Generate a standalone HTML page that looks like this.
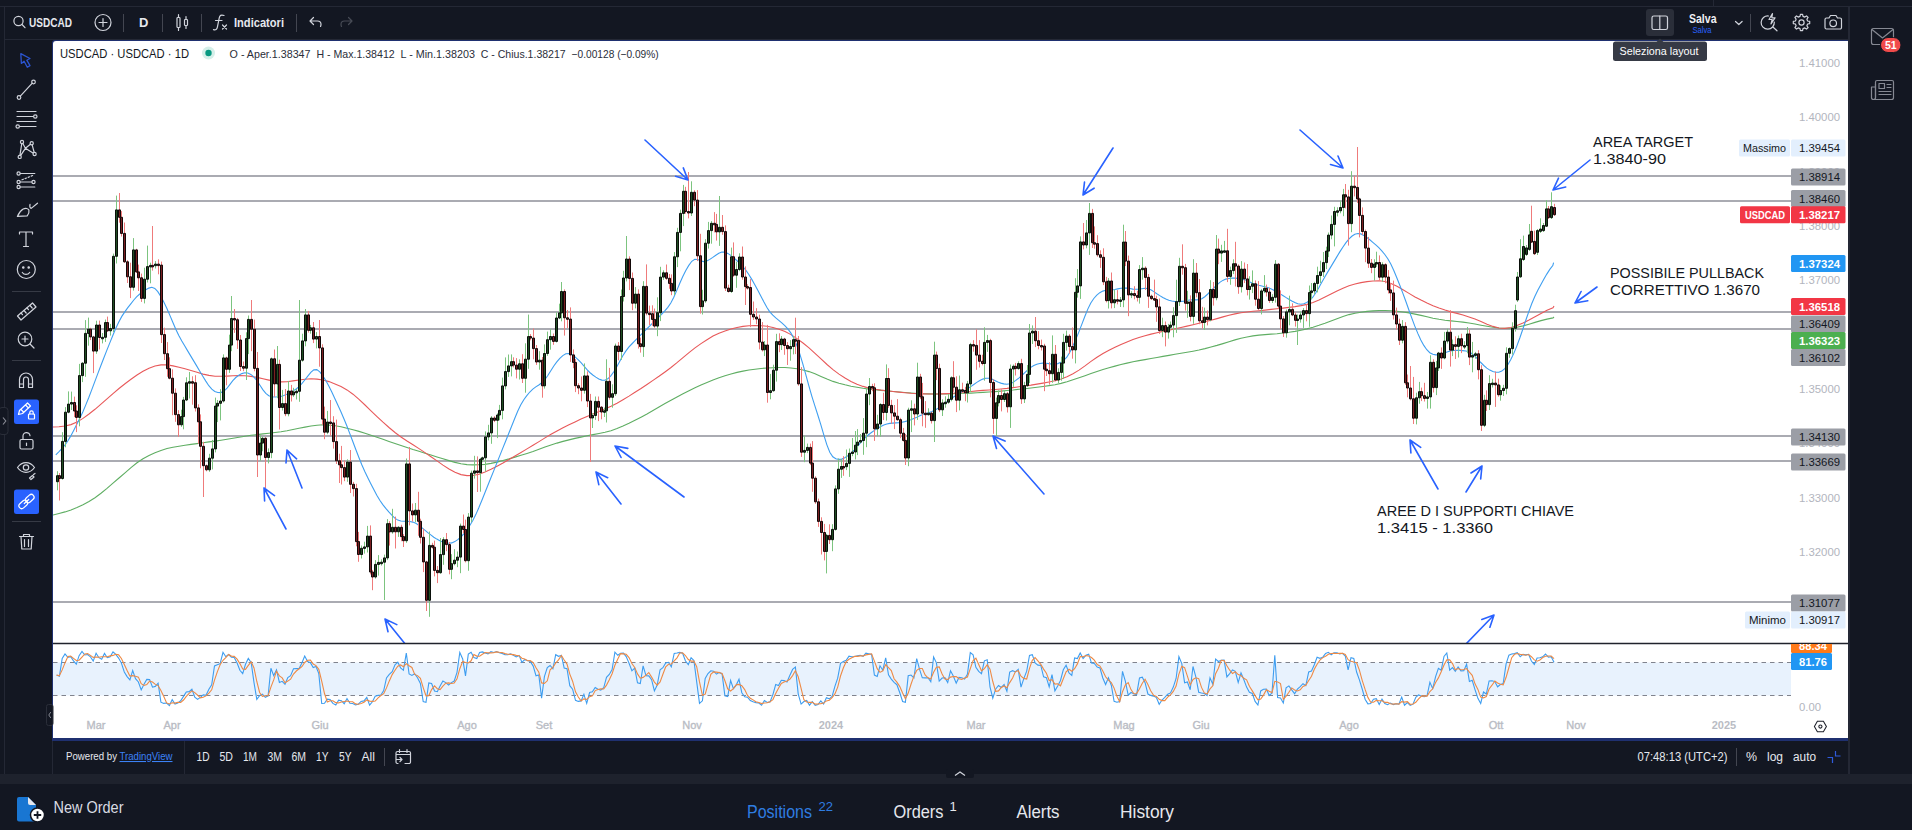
<!DOCTYPE html><html lang="it"><head><meta charset="utf-8"><title>USDCAD 1D</title><style>
html,body{margin:0;padding:0}
body{width:1912px;height:830px;background:#131722;position:relative;overflow:hidden;font-family:"Liberation Sans", "DejaVu Sans", sans-serif;color:#d1d4dc}
.a{position:absolute}
.ln{position:absolute;background:#242835}
</style></head><body>
<div class="a" style="left:0;top:0;width:1912px;height:6px;background:#131722"></div>
<div class="ln" style="left:0;top:6px;width:1912px;height:1px"></div>
<div class="ln" style="left:4px;top:6px;width:1px;height:768px"></div>
<div class="ln" style="left:4px;top:39px;width:1845px;height:1px"></div>
<div class="ln" style="left:1848px;top:6px;width:1.500px;height:768px"></div>
<div class="ln" style="left:1713px;top:0;width:1px;height:6px"></div>
<div class="a" style="left:52px;top:40px;width:1796px;height:700.500px;background:#1f3070;border-radius:3px 0 0 0"></div>
<div class="a" style="left:53px;top:41px;width:1795px;height:697px;background:#fff;border-radius:3px 0 0 0"></div>
<div class="a" style="left:0;top:774px;width:1912px;height:10px;background:#1e222d"></div>
<div class="a" style="left:0;top:784px;width:1912px;height:46px;background:#131722"></div>
<div class="ln" style="left:184px;top:741px;width:1px;height:33px"></div>
<div class="ln" style="left:52px;top:741px;width:1px;height:33px"></div>
<div class="ln" style="left:384px;top:748px;width:1px;height:18px;background:#434651"></div>
<div class="ln" style="left:1736px;top:748px;width:1px;height:18px;background:#434651"></div>
<svg width="1912" height="830" viewBox="0 0 1912 830" style="position:absolute;left:0;top:0" font-family='Liberation Sans, DejaVu Sans, sans-serif'>
<defs><clipPath id="cp"><rect x="53" y="41" width="1738" height="602"/></clipPath><clipPath id="cs"><rect x="53" y="644" width="1738" height="76"/></clipPath></defs>
<rect x="53" y="662.500" width="1738" height="33" fill="#e8f2fd"/>
<path d="M53 662.500H1791M53 695.500H1791" stroke="#80838d" stroke-width="1" stroke-dasharray="4.500 4" fill="none"/>
<g clip-path="url(#cs)" fill="none" stroke-width="1.1"><path d="M56.6 675.1L59.4 676.3L62.2 658.4L65.0 654.0L67.9 657.4L70.7 656.6L73.5 660.9L76.3 664.1L79.1 655.7L82.0 651.4L84.8 655.0L87.6 654.5L90.4 656.8L93.2 661.1L96.1 653.2L98.9 657.7L101.7 659.3L104.5 653.4L107.3 657.7L110.2 656.7L113.0 651.8L115.8 654.4L118.6 658.1L121.4 663.1L124.3 672.0L127.1 676.6L129.9 679.8L132.7 670.5L135.5 678.7L138.4 682.0L141.2 689.9L144.0 684.2L146.8 679.4L149.6 679.6L152.5 687.2L155.3 686.4L158.1 683.2L160.9 702.2L163.7 703.4L166.6 703.0L169.4 705.6L172.2 699.6L175.0 704.0L177.8 702.9L180.7 700.8L183.5 696.4L186.3 691.9L189.1 691.6L191.9 689.2L194.8 697.1L197.6 699.4L200.4 697.4L203.2 694.9L206.0 695.3L208.9 689.3L211.7 684.8L214.5 666.0L217.3 664.8L220.1 663.7L223.0 652.3L225.8 656.7L228.6 654.5L231.4 657.2L234.2 657.5L237.1 663.0L239.9 670.3L242.7 673.6L245.5 664.3L248.3 658.4L251.2 662.7L254.0 682.6L256.8 699.3L259.6 695.7L262.4 694.2L265.3 697.3L268.1 695.8L270.9 668.2L273.7 675.6L276.5 669.8L279.4 682.4L282.2 681.3L285.0 684.3L287.8 677.6L290.6 675.6L293.5 668.8L296.3 668.6L299.1 668.6L301.9 663.0L304.7 656.0L307.6 661.5L310.4 662.8L313.2 667.6L316.0 666.5L318.8 673.6L321.7 703.5L324.5 703.2L327.3 699.2L330.1 699.6L332.9 703.4L335.8 705.0L338.6 700.2L341.4 700.7L344.2 703.7L347.0 698.5L349.9 703.2L352.7 703.5L355.5 704.9L358.3 704.2L361.1 701.4L364.0 700.9L366.8 697.3L369.6 705.2L372.4 701.8L375.2 696.2L378.1 695.4L380.9 695.0L383.7 690.6L386.5 678.0L389.3 674.3L392.2 671.6L395.0 664.9L397.8 662.2L400.6 667.8L403.4 670.3L406.3 653.1L409.1 674.0L411.9 675.4L414.7 673.7L417.5 677.7L420.4 683.5L423.2 701.5L426.0 702.4L428.8 682.9L431.6 683.5L434.5 691.0L437.3 691.7L440.1 685.9L442.9 681.0L445.7 682.6L448.6 685.1L451.4 682.6L454.2 681.1L457.0 672.5L459.8 652.5L462.7 659.0L465.5 675.9L468.3 654.1L471.1 652.3L473.9 657.5L476.8 658.5L479.6 652.5L482.4 651.9L485.2 653.1L488.0 653.9L490.9 651.7L493.7 652.5L496.5 651.6L499.3 652.8L502.1 653.4L505.0 654.6L507.8 654.7L510.6 653.9L513.4 655.3L516.2 656.9L519.1 655.4L521.9 662.3L524.7 659.7L527.5 660.4L530.3 661.5L533.2 666.1L536.0 675.7L538.8 674.9L541.6 698.1L544.4 676.7L547.3 667.6L550.1 665.5L552.9 668.8L555.7 654.7L558.5 656.3L561.4 655.5L564.2 668.0L567.0 668.7L569.8 685.7L572.6 689.2L575.5 700.3L578.3 701.4L581.1 700.9L583.9 694.3L586.7 703.3L589.6 692.5L592.4 691.8L595.2 687.5L598.0 689.2L600.8 690.1L603.7 687.8L606.5 677.3L609.3 674.4L612.1 669.5L614.9 652.1L617.8 655.3L620.6 653.2L623.4 653.1L626.2 656.6L629.0 663.1L631.9 670.8L634.7 668.1L637.5 682.8L640.3 683.6L643.1 665.9L646.0 675.7L648.8 675.9L651.6 679.7L654.4 690.9L657.2 685.0L660.1 669.7L662.9 667.7L665.7 663.0L668.5 662.3L671.3 666.8L674.2 653.5L677.0 653.0L679.8 652.4L682.6 653.3L685.4 660.7L688.3 664.7L691.1 657.8L693.9 660.4L696.7 681.9L699.5 703.3L702.4 700.8L705.2 678.5L708.0 673.6L710.8 670.8L713.6 671.2L716.5 674.1L719.3 672.4L722.1 674.0L724.9 695.8L727.7 696.5L730.6 680.5L733.4 688.7L736.2 685.1L739.0 679.3L741.8 692.7L744.7 696.7L747.5 697.2L750.3 700.6L753.1 701.8L755.9 702.6L758.8 703.0L761.6 705.2L764.4 700.6L767.2 702.5L770.0 701.9L772.9 694.6L775.7 684.5L778.5 685.5L781.3 680.3L784.1 680.6L787.0 681.9L789.8 675.5L792.6 669.4L795.4 667.1L798.2 693.8L801.1 704.1L803.9 701.5L806.7 700.4L809.5 705.2L812.3 701.7L815.2 705.4L818.0 704.6L820.8 700.9L823.6 704.0L826.4 697.8L829.3 698.8L832.1 696.5L834.9 686.4L837.7 678.2L840.5 663.3L843.4 661.6L846.2 660.3L849.0 656.1L851.8 656.7L854.6 656.5L857.5 655.9L860.3 655.3L863.1 656.4L865.9 653.1L868.7 653.7L871.6 654.5L874.4 675.1L877.2 676.4L880.0 665.8L882.8 670.2L885.7 657.9L888.5 674.8L891.3 679.1L894.1 682.4L896.9 684.7L899.8 692.8L902.6 701.5L905.4 702.2L908.2 675.7L911.0 675.0L913.9 677.8L916.7 658.6L919.5 669.1L922.3 677.8L925.1 677.9L928.0 677.8L930.8 681.8L933.6 656.9L936.4 662.8L939.2 681.1L942.1 678.0L944.9 677.7L947.7 682.6L950.5 670.8L953.3 676.0L956.2 683.1L959.0 677.4L961.8 677.8L964.6 679.1L967.4 674.2L970.3 652.6L973.1 654.8L975.9 667.3L978.7 671.3L981.5 673.7L984.4 660.8L987.2 659.7L990.0 686.8L992.8 698.1L995.6 689.2L998.5 685.5L1001.3 687.5L1004.1 684.6L1006.9 691.2L1009.7 672.1L1012.6 670.7L1015.4 671.9L1018.2 669.4L1021.0 687.2L1023.8 678.6L1026.7 671.2L1029.5 655.4L1032.3 654.6L1035.1 662.8L1037.9 665.1L1040.8 665.4L1043.6 676.9L1046.4 677.6L1049.2 686.9L1052.0 674.6L1054.9 690.9L1057.7 686.1L1060.5 680.5L1063.3 669.8L1066.1 665.2L1069.0 672.9L1071.8 675.4L1074.6 657.9L1077.4 658.6L1080.2 652.9L1083.1 658.5L1085.9 655.3L1088.7 654.2L1091.5 663.1L1094.3 663.4L1097.2 667.0L1100.0 668.0L1102.8 678.0L1105.6 684.5L1108.4 677.7L1111.3 685.2L1114.1 701.4L1116.9 702.2L1119.7 701.6L1122.5 671.4L1125.4 681.3L1128.2 695.1L1131.0 692.5L1133.8 693.7L1136.6 694.7L1139.5 678.0L1142.3 677.2L1145.1 682.7L1147.9 694.0L1150.7 695.4L1153.6 696.1L1156.4 697.6L1159.2 704.3L1162.0 700.0L1164.8 697.4L1167.7 694.2L1170.5 692.9L1173.3 687.1L1176.1 678.5L1178.9 656.7L1181.8 663.6L1184.6 682.7L1187.4 682.0L1190.2 689.8L1193.0 666.5L1195.9 677.0L1198.7 692.2L1201.5 693.0L1204.3 693.5L1207.1 695.6L1210.0 677.8L1212.8 684.1L1215.6 659.1L1218.4 661.5L1221.2 660.2L1224.1 660.1L1226.9 676.9L1229.7 673.7L1232.5 670.0L1235.3 671.3L1238.2 682.5L1241.0 672.9L1243.8 679.5L1246.6 687.1L1249.4 692.2L1252.3 693.4L1255.1 701.4L1257.9 705.0L1260.7 690.9L1263.5 689.3L1266.4 689.1L1269.2 695.5L1272.0 693.1L1274.8 655.2L1277.6 697.6L1280.5 697.9L1283.3 703.0L1286.1 687.8L1288.9 685.9L1291.7 689.9L1294.6 693.7L1297.4 689.2L1300.2 686.6L1303.0 683.7L1305.8 685.6L1308.7 672.0L1311.5 671.0L1314.3 664.7L1317.1 657.2L1319.9 658.3L1322.8 657.2L1325.6 653.4L1328.4 652.3L1331.2 654.8L1334.0 652.8L1336.9 652.8L1339.7 654.0L1342.5 653.3L1345.3 656.0L1348.1 669.9L1351.0 657.7L1353.8 658.4L1356.6 672.0L1359.4 679.9L1362.2 689.0L1365.1 699.2L1367.9 703.9L1370.7 703.5L1373.5 699.2L1376.3 698.6L1379.2 704.6L1382.0 699.1L1384.8 703.5L1387.6 704.7L1390.4 703.1L1393.3 704.6L1396.1 703.7L1398.9 704.1L1401.7 697.1L1404.5 705.2L1407.4 702.5L1410.2 705.4L1413.0 704.2L1415.8 697.3L1418.6 694.9L1421.5 696.2L1424.3 696.7L1427.1 695.5L1429.9 682.2L1432.7 688.6L1435.6 676.6L1438.4 668.3L1441.2 670.3L1444.0 656.5L1446.8 653.0L1449.7 670.2L1452.5 667.6L1455.3 671.2L1458.1 666.9L1460.9 670.9L1463.8 670.8L1466.6 664.3L1469.4 681.4L1472.2 680.3L1475.0 689.6L1477.9 698.3L1480.7 703.4L1483.5 692.0L1486.3 694.0L1489.1 680.9L1492.0 680.7L1494.8 681.6L1497.6 686.8L1500.4 684.6L1503.2 683.4L1506.1 663.9L1508.9 655.2L1511.7 654.0L1514.5 653.6L1517.3 652.7L1520.2 656.7L1523.0 654.4L1525.8 654.9L1528.6 654.3L1531.4 661.0L1534.3 664.5L1537.1 658.0L1539.9 657.8L1542.7 656.8L1545.5 654.0L1548.4 657.2L1551.2 656.7L1554.0 662.2" stroke="#3d9df0"/><path d="M56.6 675.1L59.4 675.7L62.2 669.9L65.0 662.9L67.9 656.6L70.7 656.0L73.5 658.3L76.3 660.5L79.1 660.2L82.0 657.1L84.8 654.0L87.6 653.6L90.4 655.4L93.2 657.4L96.1 657.0L98.9 657.3L101.7 656.8L104.5 656.8L107.3 656.8L110.2 655.9L113.0 655.4L115.8 654.3L118.6 654.8L121.4 658.5L124.3 664.4L127.1 670.6L129.9 676.1L132.7 675.6L135.5 676.3L138.4 677.1L141.2 683.6L144.0 685.4L146.8 684.5L149.6 681.1L152.5 682.1L155.3 684.4L158.1 685.6L160.9 690.6L163.7 696.2L166.6 702.9L169.4 704.0L172.2 702.8L175.0 703.1L177.8 702.2L180.7 702.5L183.5 700.0L186.3 696.4L189.1 693.3L191.9 690.9L194.8 692.6L197.6 695.2L200.4 697.9L203.2 697.2L206.0 695.9L208.9 693.2L211.7 689.8L214.5 680.1L217.3 671.9L220.1 664.8L223.0 660.3L225.8 657.6L228.6 654.5L231.4 656.1L234.2 656.4L237.1 659.2L239.9 663.6L242.7 669.0L245.5 669.4L248.3 665.4L251.2 661.8L254.0 667.9L256.8 681.5L259.6 692.5L262.4 696.4L265.3 695.7L268.1 695.8L270.9 687.1L273.7 679.9L276.5 671.2L279.4 675.9L282.2 677.9L285.0 682.7L287.8 681.1L290.6 679.2L293.5 674.0L296.3 671.0L299.1 668.7L301.9 666.7L304.7 662.5L307.6 660.2L310.4 660.1L313.2 664.0L316.0 665.6L318.8 669.3L321.7 681.2L324.5 693.5L327.3 702.0L330.1 700.7L332.9 700.7L335.8 702.6L338.6 702.9L341.4 702.0L344.2 701.5L347.0 701.0L349.9 701.8L352.7 701.8L355.5 703.9L358.3 704.2L361.1 703.5L364.0 702.2L366.8 699.9L369.6 701.1L372.4 701.4L375.2 701.0L378.1 697.8L380.9 695.5L383.7 693.7L386.5 687.9L389.3 680.9L392.2 674.6L395.0 670.2L397.8 666.2L400.6 664.9L403.4 666.7L406.3 663.7L409.1 665.8L411.9 667.5L414.7 674.4L417.5 675.6L420.4 678.3L423.2 687.6L426.0 695.8L428.8 695.6L431.6 689.6L434.5 685.8L437.3 688.7L440.1 689.5L442.9 686.2L445.7 683.2L448.6 682.9L451.4 683.5L454.2 683.0L457.0 678.8L459.8 668.7L462.7 661.4L465.5 662.5L468.3 663.0L471.1 660.8L473.9 654.6L476.8 656.1L479.6 656.2L482.4 654.3L485.2 652.5L488.0 652.9L490.9 652.9L493.7 652.7L496.5 651.9L499.3 652.3L502.1 652.6L505.0 653.6L507.8 654.3L510.6 654.4L513.4 654.6L516.2 655.4L519.1 655.8L521.9 658.2L524.7 659.1L527.5 660.8L530.3 660.5L533.2 662.6L536.0 667.7L538.8 672.2L541.6 682.9L544.4 683.3L547.3 680.8L550.1 669.9L552.9 667.3L555.7 663.0L558.5 659.9L561.4 655.5L564.2 660.0L567.0 664.1L569.8 674.1L572.6 681.2L575.5 691.8L578.3 697.0L581.1 700.9L583.9 698.9L586.7 699.5L589.6 696.7L592.4 695.9L595.2 690.6L598.0 689.5L600.8 688.9L603.7 689.0L606.5 685.1L609.3 679.8L612.1 673.7L614.9 665.3L617.8 659.0L620.6 653.6L623.4 653.9L626.2 654.3L629.0 657.6L631.9 663.5L634.7 667.4L637.5 673.9L640.3 678.2L643.1 677.4L646.0 675.1L648.8 672.5L651.6 677.1L654.4 682.1L657.2 685.2L660.1 681.9L662.9 674.2L665.7 666.8L668.5 664.3L671.3 664.0L674.2 660.9L677.0 657.8L679.8 653.0L682.6 652.9L685.4 655.5L688.3 659.6L691.1 661.1L693.9 661.0L696.7 666.7L699.5 681.9L702.4 695.3L705.2 694.2L708.0 684.3L710.8 674.3L713.6 671.9L716.5 672.1L719.3 672.6L722.1 673.5L724.9 680.7L727.7 688.8L730.6 691.0L733.4 688.6L736.2 684.8L739.0 684.4L741.8 685.7L744.7 689.6L747.5 695.5L750.3 698.2L753.1 699.9L755.9 701.7L758.8 702.5L761.6 703.6L764.4 703.0L767.2 702.8L770.0 701.7L772.9 699.6L775.7 693.6L778.5 688.2L781.3 683.4L784.1 682.1L787.0 680.9L789.8 679.3L792.6 675.6L795.4 670.6L798.2 676.8L801.1 688.3L803.9 699.8L806.7 702.0L809.5 702.4L812.3 702.4L815.2 704.1L818.0 703.9L820.8 703.6L823.6 703.1L826.4 700.9L829.3 700.2L832.1 697.7L834.9 693.9L837.7 687.1L840.5 676.0L843.4 667.7L846.2 661.7L849.0 659.3L851.8 657.7L854.6 656.4L857.5 656.4L860.3 655.9L863.1 655.9L865.9 654.9L868.7 654.4L871.6 653.8L874.4 661.1L877.2 668.7L880.0 672.4L882.8 670.8L885.7 664.6L888.5 667.6L891.3 670.6L894.1 678.8L896.9 682.1L899.8 686.6L902.6 693.0L905.4 698.8L908.2 693.1L911.0 684.3L913.9 676.1L916.7 670.4L919.5 668.5L922.3 668.5L925.1 674.9L928.0 677.8L930.8 679.1L933.6 672.2L936.4 667.2L939.2 666.9L942.1 674.0L944.9 678.9L947.7 679.5L950.5 677.1L953.3 676.5L956.2 676.6L959.0 678.8L961.8 679.4L964.6 678.1L967.4 677.0L970.3 668.6L973.1 660.5L975.9 658.2L978.7 664.5L981.5 670.8L984.4 668.6L987.2 664.7L990.0 669.1L992.8 681.5L995.6 691.4L998.5 690.9L1001.3 687.4L1004.1 685.9L1006.9 687.8L1009.7 682.6L1012.6 678.0L1015.4 671.6L1018.2 670.7L1021.0 676.2L1023.8 678.4L1026.7 679.0L1029.5 668.4L1032.3 660.4L1035.1 657.6L1037.9 660.8L1040.8 664.4L1043.6 669.1L1046.4 673.3L1049.2 680.5L1052.0 679.7L1054.9 684.1L1057.7 683.8L1060.5 685.8L1063.3 678.8L1066.1 671.8L1069.0 669.3L1071.8 671.2L1074.6 668.7L1077.4 663.9L1080.2 656.5L1083.1 656.7L1085.9 655.6L1088.7 656.0L1091.5 657.5L1094.3 660.2L1097.2 664.5L1100.0 666.1L1102.8 671.0L1105.6 676.8L1108.4 680.1L1111.3 682.5L1114.1 688.1L1116.9 696.3L1119.7 701.7L1122.5 691.7L1125.4 684.8L1128.2 682.6L1131.0 689.6L1133.8 693.7L1136.6 693.6L1139.5 688.8L1142.3 683.3L1145.1 679.3L1147.9 684.6L1150.7 690.7L1153.6 695.2L1156.4 696.4L1159.2 699.3L1162.0 700.6L1164.8 700.6L1167.7 697.2L1170.5 694.8L1173.3 691.4L1176.1 686.1L1178.9 674.1L1181.8 666.3L1184.6 667.7L1187.4 676.1L1190.2 684.9L1193.0 679.5L1195.9 677.8L1198.7 678.6L1201.5 687.4L1204.3 692.9L1207.1 694.0L1210.0 688.9L1212.8 685.8L1215.6 673.7L1218.4 668.3L1221.2 660.3L1224.1 660.6L1226.9 665.7L1229.7 670.2L1232.5 673.5L1235.3 671.7L1238.2 674.6L1241.0 675.6L1243.8 678.3L1246.6 679.8L1249.4 686.3L1252.3 690.9L1255.1 695.6L1257.9 699.9L1260.7 699.1L1263.5 695.1L1266.4 689.8L1269.2 691.3L1272.0 692.6L1274.8 681.3L1277.6 681.9L1280.5 683.6L1283.3 699.5L1286.1 696.2L1288.9 692.2L1291.7 687.9L1294.6 689.9L1297.4 690.9L1300.2 689.8L1303.0 686.5L1305.8 685.3L1308.7 680.5L1311.5 676.2L1314.3 669.3L1317.1 664.3L1319.9 660.1L1322.8 657.6L1325.6 656.3L1328.4 654.3L1331.2 653.5L1334.0 653.3L1336.9 653.5L1339.7 653.2L1342.5 653.4L1345.3 654.4L1348.1 659.7L1351.0 661.2L1353.8 662.0L1356.6 662.7L1359.4 670.1L1362.2 680.3L1365.1 689.4L1367.9 697.4L1370.7 702.2L1373.5 702.2L1376.3 700.4L1379.2 700.8L1382.0 700.7L1384.8 702.4L1387.6 702.4L1390.4 703.8L1393.3 704.1L1396.1 703.8L1398.9 704.1L1401.7 701.6L1404.5 702.1L1407.4 701.6L1410.2 704.4L1413.0 704.0L1415.8 702.3L1418.6 698.8L1421.5 696.1L1424.3 695.9L1427.1 696.1L1429.9 691.5L1432.7 688.8L1435.6 682.5L1438.4 677.9L1441.2 671.8L1444.0 665.0L1446.8 659.9L1449.7 659.9L1452.5 663.6L1455.3 669.7L1458.1 668.6L1460.9 669.7L1463.8 669.5L1466.6 668.6L1469.4 672.2L1472.2 675.3L1475.0 683.8L1477.9 689.4L1480.7 697.1L1483.5 697.9L1486.3 696.5L1489.1 689.0L1492.0 685.2L1494.8 681.1L1497.6 683.0L1500.4 684.3L1503.2 684.9L1506.1 677.3L1508.9 667.5L1511.7 657.7L1514.5 654.3L1517.3 653.5L1520.2 654.4L1523.0 654.6L1525.8 655.3L1528.6 654.5L1531.4 656.7L1534.3 659.9L1537.1 661.2L1539.9 660.1L1542.7 657.5L1545.5 656.2L1548.4 656.0L1551.2 656.0L1554.0 658.7" stroke="#ee8a45"/></g>
<path d="M53 176.0H1791M53 201.0H1791M53 312.0H1791M53 329.0H1791M53 436.0H1791M53 461.0H1791M53 602.0H1791" stroke="#8e9099" stroke-width="1.5" fill="none"/>
<g clip-path="url(#cp)">
<g fill="none" stroke-width="1.1"><path d="M53.0 515.0L59.0 513.5L65.0 511.9L71.0 509.9L77.0 507.5L83.0 504.7L89.0 501.4L95.0 497.7L101.0 493.3L107.0 488.4L113.0 483.2L119.0 478.0L125.0 472.8L131.0 467.7L137.0 462.8L143.0 458.7L149.0 455.4L155.0 452.7L161.0 450.4L167.0 448.5L173.0 447.2L179.0 446.2L185.0 445.3L191.0 444.4L197.0 443.6L203.0 442.8L209.0 441.9L215.0 441.1L221.0 440.2L227.0 439.3L233.0 438.3L239.0 437.2L245.0 436.3L251.0 435.3L257.0 434.6L263.0 433.9L269.0 433.2L275.0 432.5L281.0 431.7L287.0 430.7L293.0 429.5L299.0 428.3L305.0 427.1L311.0 426.0L317.0 425.2L323.0 424.8L329.0 425.1L335.0 425.8L341.0 426.8L347.0 428.2L353.0 429.7L359.0 431.4L365.0 433.2L371.0 435.2L377.0 437.2L383.0 439.3L389.0 441.4L395.0 443.5L401.0 445.5L407.0 447.5L413.0 449.5L419.0 451.3L425.0 453.2L431.0 455.0L437.0 456.9L443.0 458.8L449.0 460.6L455.0 462.4L461.0 463.7L467.0 464.6L473.0 464.9L479.0 464.8L485.0 464.4L491.0 463.4L497.0 462.1L503.0 460.5L509.0 458.9L515.0 457.1L521.0 455.3L527.0 453.4L533.0 451.5L539.0 449.3L545.0 447.1L551.0 445.0L557.0 443.1L563.0 441.4L569.0 439.9L575.0 438.4L581.0 437.1L587.0 435.8L593.0 434.6L599.0 433.5L605.0 432.3L611.0 430.7L617.0 428.6L623.0 426.1L629.0 423.3L635.0 420.3L641.0 417.2L647.0 414.0L653.0 410.5L659.0 407.0L665.0 403.6L671.0 400.2L677.0 396.9L683.0 393.8L689.0 390.7L695.0 387.8L701.0 385.0L707.0 382.4L713.0 379.9L719.0 377.7L725.0 375.7L731.0 374.0L737.0 372.4L743.0 371.1L749.0 370.0L755.0 369.2L761.0 368.5L767.0 368.0L773.0 367.7L779.0 367.5L785.0 367.5L791.0 368.0L797.0 368.8L803.0 370.0L809.0 371.6L815.0 373.8L821.0 376.5L827.0 379.1L833.0 381.4L839.0 383.2L845.0 384.8L851.0 386.2L857.0 387.3L863.0 388.3L869.0 389.1L875.0 389.8L881.0 390.4L887.0 390.9L893.0 391.5L899.0 392.0L905.0 392.5L911.0 393.0L917.0 393.5L923.0 393.8L929.0 393.9L935.0 394.0L941.0 394.0L947.0 393.9L953.0 393.7L959.0 393.5L965.0 393.3L971.0 393.1L977.0 392.8L983.0 392.4L989.0 392.0L995.0 391.6L1001.0 391.1L1007.0 390.5L1013.0 390.0L1019.0 389.3L1025.0 388.7L1031.0 388.0L1037.0 387.3L1043.0 386.5L1049.0 385.6L1055.0 384.7L1061.0 383.4L1067.0 381.8L1073.0 379.8L1079.0 377.7L1085.0 375.7L1091.0 373.6L1097.0 371.5L1103.0 369.5L1109.0 367.7L1115.0 366.1L1121.0 364.5L1127.0 363.1L1133.0 361.8L1139.0 360.6L1145.0 359.6L1151.0 358.5L1157.0 357.5L1163.0 356.4L1169.0 355.4L1175.0 354.3L1181.0 353.3L1187.0 352.3L1193.0 351.2L1199.0 350.0L1205.0 348.6L1211.0 347.0L1217.0 345.4L1223.0 343.6L1229.0 341.7L1235.0 339.9L1241.0 338.3L1247.0 337.0L1253.0 335.9L1259.0 335.1L1265.0 334.6L1271.0 334.1L1277.0 333.7L1283.0 333.0L1289.0 332.3L1295.0 331.4L1301.0 330.2L1307.0 328.9L1313.0 327.2L1319.0 325.3L1325.0 323.2L1331.0 320.9L1337.0 318.7L1343.0 316.5L1349.0 314.6L1355.0 313.2L1361.0 312.2L1367.0 311.4L1373.0 310.9L1379.0 310.5L1385.0 310.5L1391.0 310.7L1397.0 311.2L1403.0 312.0L1409.0 312.9L1415.0 314.1L1421.0 315.4L1427.0 316.8L1433.0 318.2L1439.0 319.3L1445.0 320.2L1451.0 320.9L1457.0 321.5L1463.0 322.1L1469.0 323.0L1475.0 324.0L1481.0 325.2L1487.0 326.3L1493.0 327.3L1499.0 328.0L1505.0 328.3L1511.0 328.1L1517.0 327.2L1523.0 325.9L1529.0 324.2L1535.0 322.4L1541.0 320.6L1547.0 319.1L1553.0 317.9L1554.0 317.0" stroke="#5fae63"/><path d="M53.0 427.0L59.0 426.7L65.0 426.0L71.0 424.6L77.0 422.1L83.0 418.4L89.0 414.0L95.0 409.3L101.0 404.2L107.0 398.9L113.0 393.6L119.0 388.5L125.0 383.7L131.0 379.2L137.0 375.0L143.0 371.3L149.0 368.2L155.0 366.0L161.0 364.9L167.0 364.9L173.0 365.9L179.0 367.3L185.0 368.8L191.0 370.5L197.0 372.3L203.0 374.1L209.0 375.4L215.0 376.2L221.0 376.3L227.0 376.1L233.0 375.8L239.0 375.6L245.0 375.7L251.0 376.4L257.0 377.4L263.0 378.8L269.0 380.1L275.0 381.3L281.0 381.9L287.0 381.7L293.0 380.9L299.0 380.0L305.0 379.2L311.0 378.8L317.0 379.1L323.0 380.0L329.0 381.6L335.0 383.9L341.0 386.6L347.0 389.9L353.0 394.2L359.0 399.3L365.0 405.0L371.0 410.8L377.0 416.6L383.0 422.2L389.0 427.5L395.0 432.5L401.0 437.0L407.0 441.0L413.0 444.8L419.0 448.6L425.0 452.6L431.0 456.7L437.0 460.9L443.0 465.1L449.0 469.0L455.0 472.3L461.0 474.6L467.0 475.6L473.0 475.5L479.0 474.2L485.0 472.0L491.0 469.3L497.0 466.2L503.0 463.0L509.0 459.5L515.0 456.0L521.0 452.5L527.0 448.9L533.0 445.2L539.0 441.6L545.0 437.9L551.0 434.3L557.0 430.9L563.0 427.7L569.0 424.7L575.0 421.9L581.0 419.1L587.0 416.4L593.0 413.9L599.0 411.5L605.0 409.0L611.0 406.3L617.0 403.2L623.0 399.7L629.0 396.1L635.0 392.3L641.0 388.5L647.0 384.5L653.0 380.4L659.0 376.3L665.0 372.0L671.0 367.5L677.0 362.7L683.0 357.6L689.0 352.6L695.0 347.9L701.0 343.6L707.0 339.7L713.0 336.1L719.0 333.2L725.0 330.9L731.0 329.0L737.0 327.5L743.0 326.4L749.0 325.8L755.0 325.5L761.0 325.7L767.0 326.3L773.0 327.5L779.0 329.2L785.0 331.5L791.0 334.6L797.0 338.6L803.0 343.0L809.0 347.9L815.0 353.3L821.0 358.9L827.0 364.5L833.0 369.6L839.0 374.1L845.0 378.0L851.0 381.4L857.0 384.2L863.0 386.4L869.0 388.1L875.0 389.2L881.0 390.1L887.0 390.8L893.0 391.5L899.0 392.1L905.0 392.7L911.0 393.3L917.0 393.7L923.0 393.9L929.0 394.0L935.0 394.0L941.0 393.9L947.0 393.6L953.0 393.2L959.0 392.6L965.0 392.0L971.0 391.5L977.0 390.9L983.0 390.4L989.0 390.0L995.0 389.5L1001.0 389.0L1007.0 388.4L1013.0 387.6L1019.0 386.8L1025.0 385.9L1031.0 385.1L1037.0 384.1L1043.0 383.1L1049.0 382.0L1055.0 380.8L1061.0 379.1L1067.0 376.7L1073.0 373.7L1079.0 370.1L1085.0 365.9L1091.0 361.4L1097.0 357.2L1103.0 353.5L1109.0 350.3L1115.0 347.3L1121.0 344.5L1127.0 341.9L1133.0 339.6L1139.0 337.5L1145.0 335.7L1151.0 334.1L1157.0 332.7L1163.0 331.4L1169.0 330.1L1175.0 328.8L1181.0 327.5L1187.0 326.1L1193.0 324.7L1199.0 323.2L1205.0 321.7L1211.0 320.2L1217.0 318.6L1223.0 316.9L1229.0 315.3L1235.0 313.9L1241.0 312.8L1247.0 312.0L1253.0 311.3L1259.0 310.7L1265.0 310.1L1271.0 309.4L1277.0 308.8L1283.0 308.1L1289.0 307.4L1295.0 306.6L1301.0 305.6L1307.0 304.4L1313.0 302.6L1319.0 300.1L1325.0 297.1L1331.0 294.1L1337.0 291.0L1343.0 288.2L1349.0 285.8L1355.0 284.0L1361.0 282.6L1367.0 281.6L1373.0 281.0L1379.0 280.8L1385.0 281.5L1391.0 283.4L1397.0 286.3L1403.0 289.8L1409.0 293.4L1415.0 296.9L1421.0 300.1L1427.0 303.1L1433.0 305.8L1439.0 308.1L1445.0 310.1L1451.0 311.9L1457.0 313.4L1463.0 315.0L1469.0 316.9L1475.0 319.1L1481.0 321.6L1487.0 324.2L1493.0 326.4L1499.0 328.0L1505.0 328.4L1511.0 327.5L1517.0 325.6L1523.0 323.0L1529.0 320.1L1535.0 316.8L1541.0 313.4L1547.0 310.3L1553.0 307.8L1554.0 306.0" stroke="#e8595a"/><path d="M55.8 454.8L58.8 451.8L61.8 448.6L64.8 445.2L67.8 441.0L70.8 435.9L73.8 430.2L76.8 424.3L79.8 418.2L82.8 411.9L85.8 404.9L88.8 397.5L91.8 389.6L94.8 381.6L97.8 373.6L100.8 365.7L103.8 358.0L106.8 350.4L109.8 342.9L112.8 335.5L115.8 328.3L118.8 321.9L121.8 316.4L124.8 311.9L127.8 307.7L130.8 303.8L133.8 300.0L136.8 296.7L139.8 294.0L142.8 291.8L145.8 289.8L148.8 288.1L151.8 287.3L154.8 288.4L157.8 291.6L160.8 296.4L163.8 302.0L166.8 308.2L169.8 315.1L172.8 322.3L175.8 329.2L178.8 335.4L181.8 340.9L184.8 346.1L187.8 351.1L190.8 356.1L193.8 361.1L196.8 366.1L199.8 371.2L202.8 376.2L205.8 381.1L208.8 385.7L211.8 389.2L214.8 391.4L217.8 392.5L220.8 392.6L223.8 391.3L226.8 388.5L229.8 384.6L232.8 380.7L235.8 377.5L238.8 375.2L241.8 373.6L244.8 372.8L247.8 373.0L250.8 374.4L253.8 376.9L256.8 380.5L259.8 385.0L262.8 389.6L265.8 393.4L268.8 395.7L271.8 396.7L274.8 397.0L277.8 396.8L280.8 396.4L283.8 395.4L286.8 394.2L289.8 392.7L292.8 391.1L295.8 389.3L298.8 386.9L301.8 383.7L304.8 380.0L307.8 376.1L310.8 372.4L313.8 369.9L316.8 369.6L319.8 371.8L322.8 375.7L325.8 380.5L328.8 386.0L331.8 392.0L334.8 398.4L337.8 404.9L340.8 411.5L343.8 418.5L346.8 425.8L349.8 433.6L352.8 441.5L355.8 449.5L358.8 457.3L361.8 464.7L364.8 471.4L367.8 477.7L370.8 483.7L373.8 489.6L376.8 495.2L379.8 500.3L382.8 504.6L385.8 508.4L388.8 511.9L391.8 515.2L394.8 518.1L397.8 520.1L400.8 521.0L403.8 521.3L406.8 521.3L409.8 521.5L412.8 522.1L415.8 523.3L418.8 525.3L421.8 527.6L424.8 530.1L427.8 532.6L430.8 534.9L433.8 537.2L436.8 539.1L439.8 540.8L442.8 542.0L445.8 542.9L448.8 543.3L451.8 542.9L454.8 541.6L457.8 539.6L460.8 537.0L463.8 533.8L466.8 529.9L469.8 525.5L472.8 520.5L475.8 514.6L478.8 507.8L481.8 500.5L484.8 493.0L487.8 485.5L490.8 478.0L493.8 470.6L496.8 463.1L499.8 455.6L502.8 448.1L505.8 440.7L508.8 433.2L511.8 425.7L514.8 418.2L517.8 411.1L520.8 404.8L523.8 399.7L526.8 395.6L529.8 392.0L532.8 389.1L535.8 386.9L538.8 385.0L541.8 382.8L544.8 379.7L547.8 375.5L550.8 370.7L553.8 366.0L556.8 361.9L559.8 358.4L562.8 355.6L565.8 353.8L568.8 353.5L571.8 354.6L574.8 356.7L577.8 359.3L580.8 362.4L583.8 365.8L586.8 369.3L589.8 372.5L592.8 375.0L595.8 377.1L598.8 378.9L601.8 380.1L604.8 380.2L607.8 378.8L610.8 375.9L613.8 371.8L616.8 366.8L619.8 361.2L622.8 355.8L625.8 351.1L628.8 347.2L631.8 344.0L634.8 340.9L637.8 337.9L640.8 334.9L643.8 331.9L646.8 328.9L649.8 325.9L652.8 322.9L655.8 320.0L658.8 317.0L661.8 314.0L664.8 310.9L667.8 307.4L670.8 303.0L673.8 297.3L676.8 290.4L679.8 283.3L682.8 276.6L685.8 270.6L688.8 265.4L691.8 261.3L694.8 259.3L697.8 259.5L700.8 260.9L703.8 261.6L706.8 261.0L709.8 259.4L712.8 257.4L715.8 255.2L718.8 253.3L721.8 252.1L724.8 252.1L727.8 253.4L730.8 255.4L733.8 257.8L736.8 260.5L739.8 263.3L742.8 266.5L745.8 270.1L748.8 274.5L751.8 279.4L754.8 284.7L757.8 290.2L760.8 296.0L763.8 301.8L766.8 307.2L769.8 311.8L772.8 315.2L775.8 317.9L778.8 320.3L781.8 322.9L784.8 325.7L787.8 328.9L790.8 332.9L793.8 338.3L796.8 345.2L799.8 353.8L802.8 363.8L805.8 374.7L808.8 385.7L811.8 396.1L814.8 405.7L817.8 415.0L820.8 424.7L823.8 434.8L826.8 444.6L829.8 452.3L832.8 456.8L835.8 458.8L838.8 459.4L841.8 459.1L844.8 457.8L847.8 455.8L850.8 453.3L853.8 450.5L856.8 447.2L859.8 443.6L862.8 440.2L865.8 437.2L868.8 434.5L871.8 432.2L874.8 430.1L877.8 428.2L880.8 426.6L883.8 425.1L886.8 424.0L889.8 423.4L892.8 423.1L895.8 422.9L898.8 422.7L901.8 422.2L904.8 421.6L907.8 420.8L910.8 419.8L913.8 418.5L916.8 417.2L919.8 415.8L922.8 414.5L925.8 413.5L928.8 412.7L931.8 411.6L934.8 410.3L937.8 408.4L940.8 406.3L943.8 404.1L946.8 401.9L949.8 399.7L952.8 397.5L955.8 395.4L958.8 393.5L961.8 391.8L964.8 390.2L967.8 388.5L970.8 386.6L973.8 384.5L976.8 382.4L979.8 380.6L982.8 379.1L985.8 378.3L988.8 378.2L991.8 379.1L994.8 380.5L997.8 382.0L1000.8 383.1L1003.8 383.9L1006.8 384.2L1009.8 383.8L1012.8 382.4L1015.8 380.4L1018.8 378.1L1021.8 375.5L1024.8 372.7L1027.8 369.9L1030.8 367.4L1033.8 365.5L1036.8 364.2L1039.8 363.5L1042.8 363.1L1045.8 363.2L1048.8 363.6L1051.8 364.1L1054.8 364.1L1057.8 363.6L1060.8 362.3L1063.8 360.4L1066.8 357.2L1069.8 352.3L1072.8 346.2L1075.8 339.4L1078.8 332.1L1081.8 324.4L1084.8 316.5L1087.8 309.1L1090.8 303.0L1093.8 298.5L1096.8 295.2L1099.8 292.7L1102.8 291.1L1105.8 290.3L1108.8 290.1L1111.8 289.9L1114.8 289.5L1117.8 288.9L1120.8 288.3L1123.8 288.0L1126.8 288.1L1129.8 288.5L1132.8 289.1L1135.8 289.3L1138.8 289.2L1141.8 288.7L1144.8 288.3L1147.8 288.6L1150.8 289.8L1153.8 291.6L1156.8 293.7L1159.8 295.6L1162.8 297.4L1165.8 298.9L1168.8 300.2L1171.8 301.0L1174.8 301.5L1177.8 301.5L1180.8 301.4L1183.8 301.1L1186.8 300.5L1189.8 300.0L1192.8 299.7L1195.8 299.9L1198.8 299.8L1201.8 298.8L1204.8 296.7L1207.8 294.0L1210.8 291.0L1213.8 288.0L1216.8 285.1L1219.8 282.4L1222.8 280.4L1225.8 279.1L1228.8 278.5L1231.8 278.1L1234.8 278.1L1237.8 278.4L1240.8 278.9L1243.8 279.6L1246.8 280.6L1249.8 281.9L1252.8 283.3L1255.8 284.5L1258.8 285.3L1261.8 286.0L1264.8 286.7L1267.8 287.6L1270.8 288.8L1273.8 290.2L1276.8 291.8L1279.8 293.6L1282.8 295.5L1285.8 297.4L1288.8 299.2L1291.8 300.9L1294.8 302.5L1297.8 303.7L1300.8 304.2L1303.8 303.7L1306.8 302.4L1309.8 300.3L1312.8 297.2L1315.8 292.8L1318.8 287.7L1321.8 282.3L1324.8 277.0L1327.8 271.9L1330.8 266.9L1333.8 261.9L1336.8 256.9L1339.8 251.9L1342.8 247.2L1345.8 242.9L1348.8 239.2L1351.8 236.3L1354.8 234.3L1357.8 233.5L1360.8 233.9L1363.8 235.4L1366.8 237.5L1369.8 239.8L1372.8 242.3L1375.8 244.9L1378.8 247.7L1381.8 250.9L1384.8 254.5L1387.8 258.8L1390.8 264.1L1393.8 270.5L1396.8 277.7L1399.8 285.3L1402.8 293.1L1405.8 301.3L1408.8 309.7L1411.8 318.1L1414.8 326.1L1417.8 333.4L1420.8 339.9L1423.8 345.4L1426.8 349.7L1429.8 352.7L1432.8 354.3L1435.8 354.9L1438.8 354.7L1441.8 353.9L1444.8 352.8L1447.8 351.7L1450.8 350.9L1453.8 350.5L1456.8 350.4L1459.8 350.4L1462.8 350.6L1465.8 351.0L1468.8 351.8L1471.8 353.5L1474.8 356.0L1477.8 359.2L1480.8 362.5L1483.8 365.5L1486.8 368.1L1489.8 370.1L1492.8 371.5L1495.8 372.3L1498.8 372.2L1501.8 371.1L1504.8 368.6L1507.8 364.7L1510.8 359.6L1513.8 353.4L1516.8 346.1L1519.8 338.0L1522.8 329.2L1525.8 320.3L1528.8 311.6L1531.8 303.5L1534.8 296.5L1537.8 290.3L1540.8 284.7L1543.8 279.3L1546.8 274.1L1549.8 269.4L1552.8 265.6L1553.6 262.6" stroke="#3f9ff0"/></g>
<path d="M57.5 471.2V490.3M62.5 432.2V479.7M65.5 407.1V447.3M68.5 391.4V413.3M71.5 391.6V410.0M79.5 363.9V426.3M82.5 362.2V382.1M85.5 320.1V376.8M88.5 317.6V345.7M96.5 320.7V353.8M102.5 333.0V343.4M105.5 319.5V341.9M110.5 323.9V335.6M113.5 253.6V332.1M116.5 195.6V263.5M133.5 238.1V290.6M144.5 267.7V303.4M147.5 245.6V282.5M150.5 262.7V283.3M155.5 261.1V268.5M181.5 409.7V426.9M183.5 396.9V429.3M186.5 377.3V401.1M189.5 372.0V398.5M209.5 453.8V471.8M212.5 439.9V469.4M215.5 397.6V452.4M217.5 400.0V422.1M220.5 389.2V420.4M223.5 354.4V402.5M229.5 334.7V372.9M231.5 296.0V351.2M246.5 332.3V380.0M248.5 315.5V354.1M260.5 435.3V460.7M262.5 436.6V451.3M268.5 448.4V463.4M271.5 357.5V458.2M277.5 346.0V398.2M282.5 389.9V410.5M288.5 380.9V416.3M293.5 387.8V396.9M296.5 389.0V399.5M299.5 300.0V401.8M302.5 333.7V361.7M305.5 309.0V346.3M310.5 324.9V333.7M316.5 332.1V348.4M327.5 410.9V434.2M347.5 459.3V481.8M361.5 545.5V558.5M364.5 541.7V553.6M367.5 525.9V552.5M375.5 560.1V578.6M378.5 555.1V575.6M381.5 559.3V565.6M384.5 554.6V600.0M387.5 519.1V560.1M392.5 508.8V533.7M398.5 526.2V536.9M406.5 458.5V542.8M415.5 503.0V522.2M429.5 531.5V616.8M440.5 538.0V573.8M443.5 537.2V564.8M451.5 554.2V579.2M454.5 549.2V565.4M457.5 551.5V567.2M460.5 523.6V573.2M468.5 513.1V570.8M471.5 470.6V522.1M474.5 455.8V478.6M480.5 457.9V491.7M482.5 456.6V462.2M485.5 431.4V471.5M488.5 424.8V440.4M491.5 416.1V443.8M497.5 413.3V438.1M499.5 404.9V420.3M502.5 377.6V419.3M505.5 357.4V389.4M508.5 354.5V376.9M511.5 354.4V376.4M519.5 359.3V379.5M525.5 343.3V392.7M528.5 314.6V368.8M539.5 351.2V369.7M544.5 344.4V388.6M547.5 331.6V355.8M550.5 329.3V349.7M556.5 312.3V342.5M559.5 303.7V319.2M561.5 282.0V321.3M584.5 363.4V393.6M592.5 413.2V428.0M595.5 396.5V419.9M604.5 407.6V417.0M606.5 359.3V422.5M612.5 384.3V407.7M615.5 343.6V395.9M621.5 289.5V359.9M623.5 270.8V301.5M626.5 236.0V281.4M635.5 287.1V308.4M643.5 281.2V356.9M657.5 297.3V336.2M660.5 266.8V321.1M663.5 270.3V279.9M674.5 252.1V295.1M677.5 227.8V267.1M680.5 209.7V251.3M683.5 184.9V226.1M691.5 181.3V216.0M702.5 289.8V314.5M705.5 239.2V302.8M708.5 221.9V248.6M711.5 221.1V243.7M719.5 196.0V245.9M731.5 247.6V292.9M736.5 261.7V287.8M739.5 253.3V271.2M764.5 341.0V356.1M770.5 373.9V399.3M773.5 364.7V391.8M776.5 333.8V381.6M781.5 336.0V350.0M790.5 340.1V360.7M793.5 336.4V354.4M804.5 435.6V462.2M807.5 443.6V453.1M826.5 533.9V573.4M832.5 524.2V551.2M835.5 485.4V530.6M838.5 458.5V493.8M841.5 458.9V477.9M846.5 449.5V470.1M849.5 448.5V476.9M852.5 438.0V456.2M855.5 431.0V459.4M857.5 429.1V455.1M860.5 434.0V443.1M863.5 418.1V454.8M866.5 387.7V447.2M869.5 378.0V405.2M877.5 414.8V436.3M880.5 403.2V436.7M886.5 364.4V420.6M908.5 407.7V466.2M911.5 400.3V432.1M917.5 362.7V419.9M928.5 408.3V415.6M934.5 341.7V442.0M942.5 399.3V416.0M945.5 396.3V407.7M948.5 394.1V403.7M951.5 376.3V401.3M959.5 375.6V410.4M967.5 380.9V402.5M970.5 342.8V392.1M984.5 327.3V380.7M987.5 334.9V351.9M996.5 397.6V436.0M998.5 390.4V406.4M1004.5 390.0V402.0M1010.5 364.5V427.9M1013.5 364.5V386.9M1018.5 361.3V369.7M1024.5 381.8V403.0M1027.5 365.0V386.9M1029.5 324.0V383.1M1032.5 325.4V344.0M1052.5 335.4V382.8M1058.5 368.3V383.1M1061.5 356.6V380.7M1063.5 333.8V378.8M1066.5 330.6V350.6M1075.5 278.2V363.4M1077.5 269.1V297.6M1080.5 236.4V298.9M1086.5 220.0V248.3M1089.5 203.0V254.9M1108.5 278.1V308.5M1114.5 289.5V308.1M1120.5 297.0V307.0M1123.5 224.7V307.2M1131.5 291.2V298.1M1139.5 265.1V303.6M1142.5 257.1V279.7M1162.5 317.7V337.2M1168.5 323.9V338.6M1170.5 321.5V329.7M1173.5 307.2V337.3M1176.5 279.7V332.9M1179.5 257.8V306.0M1187.5 290.8V317.9M1193.5 259.2V323.8M1204.5 307.6V330.0M1210.5 280.2V321.3M1216.5 235.0V300.3M1221.5 244.8V261.9M1224.5 240.9V252.0M1230.5 266.6V284.8M1233.5 259.3V274.1M1241.5 261.1V292.5M1249.5 276.2V299.6M1252.5 270.4V293.1M1261.5 288.9V314.4M1264.5 275.1V293.1M1272.5 294.2V303.0M1275.5 260.1V302.6M1286.5 309.6V337.7M1289.5 295.7V325.3M1297.5 314.5V345.0M1300.5 311.5V322.6M1303.5 308.1V327.9M1309.5 285.5V326.8M1311.5 283.0V299.3M1314.5 281.8V294.4M1317.5 266.7V292.4M1320.5 260.7V283.0M1323.5 252.0V277.0M1326.5 246.7V269.1M1328.5 232.5V257.1M1331.5 215.5V239.3M1334.5 206.8V246.4M1337.5 207.3V216.4M1340.5 200.7V213.3M1343.5 188.9V216.2M1351.5 171.2V232.2M1374.5 259.3V280.6M1376.5 251.7V266.9M1382.5 262.3V281.7M1402.5 320.1V343.3M1416.5 392.7V424.4M1419.5 381.9V403.7M1427.5 392.0V408.6M1430.5 355.3V408.6M1436.5 360.9V395.1M1438.5 351.9V371.0M1444.5 331.9V359.3M1447.5 328.7V343.5M1452.5 339.5V356.1M1458.5 335.5V357.5M1464.5 341.2V349.1M1467.5 327.0V353.3M1472.5 341.9V372.3M1475.5 351.9V358.7M1484.5 394.8V427.1M1489.5 375.2V410.0M1492.5 378.8V387.5M1500.5 385.3V400.7M1503.5 384.8V396.0M1506.5 347.3V394.3M1509.5 347.4V357.8M1512.5 322.3V354.6M1515.5 304.7V331.6M1517.5 272.0V302.0M1520.5 239.2V278.0M1523.5 235.6V261.0M1526.5 245.0V256.0M1529.5 224.0V251.0M1537.5 229.0V255.0M1540.5 218.3V233.0M1543.5 223.0V232.0M1546.5 200.2V227.0M1551.5 192.3V219.0" stroke="#7cc47f" stroke-width="1" fill="none"/>
<path d="M59.5 473.0V500.5M74.5 396.6V417.1M76.5 405.3V432.1M90.5 327.8V340.1M93.5 335.8V373.1M99.5 320.6V349.5M107.5 316.6V331.9M119.5 193.0V222.7M121.5 211.1V236.5M124.5 222.5V263.0M127.5 260.1V283.0M130.5 262.7V298.1M136.5 248.8V273.0M138.5 264.6V291.0M141.5 273.6V301.9M152.5 226.0V270.6M158.5 259.3V274.3M161.5 261.6V343.0M164.5 327.7V360.0M167.5 342.1V376.8M169.5 357.3V379.3M172.5 369.3V415.2M175.5 388.4V421.8M178.5 410.2V436.8M192.5 376.3V404.7M195.5 375.2V411.5M198.5 404.3V443.8M200.5 414.4V468.3M203.5 441.8V497.0M206.5 464.5V471.3M226.5 356.7V385.3M234.5 309.0V332.9M237.5 317.9V348.9M240.5 335.0V371.0M243.5 361.5V371.2M251.5 300.0V351.2M254.5 319.6V371.3M257.5 352.0V477.0M265.5 437.1V488.0M274.5 349.5V396.9M279.5 359.7V429.5M285.5 389.0V416.2M291.5 384.9V401.5M308.5 310.9V332.6M313.5 322.0V343.1M319.5 320.0V366.7M322.5 344.3V424.8M324.5 406.6V439.2M330.5 400.0V435.8M333.5 416.2V448.6M336.5 419.6V464.0M339.5 453.7V483.0M341.5 445.9V484.5M344.5 460.4V481.2M350.5 450.0V493.0M353.5 481.9V496.5M356.5 483.8V546.3M358.5 531.9V561.8M370.5 525.4V574.4M372.5 569.9V590.2M389.5 521.2V545.6M395.5 516.6V548.5M401.5 524.8V541.2M403.5 534.2V547.0M409.5 447.0V525.4M412.5 503.5V521.5M418.5 491.8V535.8M420.5 518.7V543.5M423.5 528.7V572.1M426.5 560.8V611.0M432.5 542.8V548.6M434.5 540.6V576.4M437.5 566.0V583.1M446.5 533.0V551.2M449.5 542.0V574.3M463.5 514.5V533.3M465.5 519.6V562.4M477.5 456.4V492.0M494.5 416.2V422.1M513.5 357.3V367.4M516.5 358.1V378.4M522.5 354.2V383.0M530.5 334.2V340.3M533.5 328.5V359.3M536.5 345.0V364.9M542.5 357.0V397.7M553.5 333.5V344.8M564.5 289.4V335.6M567.5 310.0V328.0M570.5 307.4V361.9M573.5 349.4V368.2M575.5 359.1V392.1M578.5 383.3V394.2M581.5 376.4V401.3M587.5 371.3V407.1M590.5 393.9V462.0M598.5 396.5V421.1M601.5 406.1V419.3M609.5 367.9V399.6M618.5 342.1V360.3M629.5 256.3V290.1M632.5 272.5V310.2M638.5 289.4V348.6M640.5 337.6V352.6M646.5 264.4V315.3M649.5 305.6V325.0M652.5 305.3V325.8M654.5 308.5V327.8M666.5 264.5V279.9M669.5 274.0V288.8M671.5 274.4V295.2M685.5 186.8V213.6M688.5 172.0V218.4M694.5 190.3V206.2M697.5 190.1V261.1M700.5 233.8V313.6M714.5 212.1V232.4M716.5 213.9V240.6M722.5 215.0V234.8M725.5 225.4V291.0M728.5 284.7V292.6M733.5 242.4V276.8M742.5 246.5V279.7M745.5 266.4V305.0M747.5 284.2V289.6M750.5 279.1V327.1M753.5 301.5V319.9M756.5 308.2V324.2M759.5 314.7V349.4M762.5 322.1V351.5M767.5 324.9V402.7M779.5 333.3V352.2M784.5 337.8V354.8M787.5 342.1V365.0M795.5 317.7V354.1M798.5 336.0V385.7M801.5 367.1V456.9M810.5 443.6V465.1M812.5 441.1V491.8M815.5 476.3V503.8M818.5 498.6V526.9M821.5 517.3V554.5M824.5 523.9V560.4M829.5 524.3V544.0M843.5 456.2V475.8M872.5 383.8V391.2M874.5 383.3V440.9M883.5 392.7V420.1M888.5 368.2V407.8M891.5 399.8V423.8M894.5 405.0V429.1M897.5 399.1V420.8M900.5 417.8V438.2M903.5 427.9V441.6M905.5 434.0V465.0M914.5 403.7V425.4M920.5 373.8V399.1M922.5 382.9V426.3M925.5 401.1V427.8M931.5 411.8V423.5M936.5 351.6V380.1M939.5 363.7V412.1M953.5 361.2V391.8M956.5 376.3V412.1M962.5 382.7V393.4M965.5 386.8V401.2M973.5 340.2V351.7M976.5 329.4V369.8M979.5 340.1V367.5M982.5 354.7V365.3M990.5 338.8V397.4M993.5 379.2V433.8M1001.5 389.4V411.4M1007.5 391.9V412.5M1015.5 362.9V375.5M1021.5 358.8V403.9M1035.5 317.0V347.1M1038.5 331.1V349.3M1041.5 339.6V350.5M1044.5 343.8V391.2M1046.5 363.8V376.0M1049.5 362.1V384.6M1055.5 345.0V381.3M1069.5 334.1V353.8M1072.5 327.4V358.7M1083.5 223.0V249.4M1092.5 208.9V248.0M1094.5 226.4V248.7M1097.5 235.2V256.7M1100.5 250.3V267.9M1103.5 248.3V285.1M1106.5 276.9V302.4M1111.5 272.5V308.4M1117.5 290.1V304.3M1125.5 231.0V266.1M1128.5 255.6V316.2M1134.5 286.2V299.3M1137.5 290.8V301.5M1145.5 266.4V289.9M1148.5 274.0V307.9M1151.5 294.7V300.0M1154.5 279.6V300.9M1156.5 295.7V321.8M1159.5 298.5V333.9M1165.5 321.5V346.4M1182.5 244.3V274.7M1185.5 263.9V310.6M1190.5 295.4V321.3M1196.5 263.0V297.3M1199.5 279.0V324.2M1202.5 306.8V328.5M1207.5 310.5V325.4M1213.5 282.0V305.6M1218.5 238.6V264.2M1227.5 228.8V282.1M1235.5 241.8V286.5M1238.5 264.3V293.8M1244.5 262.5V283.1M1247.5 264.0V295.4M1255.5 280.4V305.7M1258.5 281.1V310.0M1266.5 284.6V296.5M1269.5 287.8V302.8M1278.5 263.1V308.9M1280.5 290.4V329.0M1283.5 316.1V337.0M1292.5 303.3V316.2M1295.5 312.5V326.6M1306.5 304.1V321.3M1345.5 184.0V208.4M1348.5 189.8V245.6M1354.5 175.7V196.4M1357.5 147.0V202.9M1359.5 197.7V237.4M1362.5 207.4V234.9M1365.5 229.6V262.2M1368.5 236.9V267.9M1371.5 259.0V273.2M1379.5 255.4V280.6M1385.5 263.3V283.3M1388.5 270.1V293.5M1390.5 283.3V300.9M1393.5 280.6V319.5M1396.5 307.6V329.5M1399.5 318.7V345.0M1405.5 322.2V384.9M1407.5 374.5V397.3M1410.5 366.0V400.4M1413.5 376.9V424.0M1421.5 387.6V401.1M1424.5 382.8V401.5M1433.5 359.3V392.5M1441.5 347.4V368.9M1450.5 310.2V366.6M1455.5 336.3V359.0M1461.5 333.7V353.1M1469.5 329.5V365.1M1478.5 350.2V379.4M1481.5 365.2V431.0M1486.5 390.4V410.9M1495.5 371.5V406.9M1498.5 378.7V396.7M1531.5 205.7V243.0M1534.5 230.6V255.0M1548.5 206.0V219.0M1554.5 203.8V216.0" stroke="#ef7b7b" stroke-width="1" fill="none"/>
<path d="M56.5 475.7h2V481.7h-2zM61.5 441.4h2V478.5h-2zM64.5 412.2h2V441.4h-2zM67.5 404.1h2V412.2h-2zM70.5 402.5h2V404.1h-2zM78.5 375.6h2V417.4h-2zM81.5 363.2h2V375.6h-2zM84.5 333.4h2V363.2h-2zM87.5 329.2h2V333.4h-2zM95.5 325.0h2V351.1h-2zM101.5 337.3h2V338.8h-2zM104.5 322.6h2V337.3h-2zM109.5 328.5h2V330.8h-2zM112.5 256.3h2V328.5h-2zM115.5 209.9h2V256.3h-2zM132.5 249.9h2V287.3h-2zM143.5 279.2h2V298.4h-2zM146.5 266.6h2V279.2h-2zM149.5 265.4h2V266.9h-2zM154.5 264.1h2V265.7h-2zM180.5 416.6h2V424.8h-2zM182.5 400.0h2V416.6h-2zM185.5 382.8h2V400.0h-2zM188.5 381.7h2V383.2h-2zM208.5 458.2h2V469.8h-2zM211.5 448.9h2V458.2h-2zM214.5 406.1h2V448.9h-2zM216.5 403.3h2V406.1h-2zM219.5 401.0h2V403.3h-2zM222.5 357.9h2V401.0h-2zM228.5 345.1h2V369.3h-2zM230.5 318.5h2V345.1h-2zM245.5 338.6h2V368.2h-2zM247.5 319.4h2V338.6h-2zM259.5 443.1h2V455.0h-2zM261.5 438.3h2V443.1h-2zM267.5 452.6h2V457.5h-2zM270.5 358.8h2V452.6h-2zM276.5 364.4h2V383.9h-2zM281.5 403.6h2V407.5h-2zM287.5 391.0h2V413.7h-2zM292.5 391.9h2V394.8h-2zM295.5 391.3h2V392.8h-2zM298.5 360.2h2V391.3h-2zM301.5 340.9h2V360.2h-2zM304.5 314.9h2V340.9h-2zM309.5 327.8h2V330.3h-2zM315.5 336.5h2V339.1h-2zM326.5 422.0h2V432.2h-2zM346.5 462.1h2V477.1h-2zM360.5 548.3h2V554.5h-2zM363.5 546.9h2V548.4h-2zM366.5 536.1h2V546.9h-2zM374.5 564.4h2V577.0h-2zM377.5 562.4h2V564.4h-2zM380.5 562.2h2V563.7h-2zM383.5 557.9h2V562.2h-2zM386.5 523.7h2V557.9h-2zM391.5 527.3h2V531.9h-2zM397.5 527.3h2V531.8h-2zM405.5 463.9h2V540.7h-2zM414.5 510.2h2V514.9h-2zM428.5 545.4h2V600.3h-2zM439.5 554.6h2V572.7h-2zM442.5 539.7h2V554.6h-2zM450.5 563.7h2V569.3h-2zM453.5 560.2h2V563.7h-2zM456.5 557.1h2V560.2h-2zM459.5 526.1h2V557.1h-2zM467.5 517.1h2V560.7h-2zM470.5 473.2h2V517.1h-2zM473.5 470.9h2V473.2h-2zM479.5 459.3h2V472.6h-2zM481.5 457.8h2V459.3h-2zM484.5 436.9h2V457.8h-2zM487.5 432.9h2V436.9h-2zM490.5 418.0h2V432.9h-2zM496.5 415.0h2V420.3h-2zM498.5 410.4h2V415.0h-2zM501.5 385.9h2V410.4h-2zM504.5 371.6h2V385.9h-2zM507.5 365.9h2V371.6h-2zM510.5 361.7h2V365.9h-2zM518.5 363.8h2V369.2h-2zM524.5 359.2h2V378.3h-2zM527.5 336.6h2V359.2h-2zM538.5 360.2h2V362.0h-2zM543.5 353.5h2V385.8h-2zM546.5 339.7h2V353.5h-2zM549.5 336.5h2V339.7h-2zM555.5 318.0h2V341.4h-2zM558.5 312.9h2V318.0h-2zM560.5 291.5h2V312.9h-2zM583.5 375.9h2V390.3h-2zM591.5 415.5h2V417.9h-2zM594.5 401.4h2V415.5h-2zM603.5 410.8h2V412.3h-2zM605.5 381.3h2V410.8h-2zM611.5 393.7h2V397.3h-2zM614.5 346.0h2V393.7h-2zM620.5 296.5h2V351.5h-2zM622.5 278.0h2V296.5h-2zM625.5 259.0h2V278.0h-2zM634.5 294.1h2V303.2h-2zM642.5 286.4h2V346.6h-2zM656.5 312.7h2V326.1h-2zM659.5 277.1h2V312.7h-2zM662.5 272.8h2V277.1h-2zM673.5 256.8h2V291.0h-2zM676.5 232.4h2V256.8h-2zM679.5 213.4h2V232.4h-2zM682.5 191.3h2V213.4h-2zM690.5 192.3h2V213.0h-2zM701.5 300.9h2V306.6h-2zM704.5 243.2h2V300.9h-2zM707.5 230.6h2V243.2h-2zM710.5 223.3h2V230.6h-2zM718.5 227.3h2V231.9h-2zM730.5 256.8h2V291.5h-2zM735.5 269.5h2V275.2h-2zM738.5 257.0h2V269.5h-2zM763.5 345.0h2V349.8h-2zM769.5 390.7h2V392.5h-2zM772.5 370.2h2V390.7h-2zM775.5 341.6h2V370.2h-2zM780.5 339.0h2V344.6h-2zM789.5 346.5h2V348.7h-2zM792.5 339.7h2V346.5h-2zM803.5 450.4h2V452.2h-2zM806.5 447.4h2V450.4h-2zM825.5 535.4h2V551.4h-2zM831.5 529.4h2V539.7h-2zM834.5 488.9h2V529.4h-2zM837.5 469.2h2V488.9h-2zM840.5 466.5h2V469.2h-2zM845.5 463.4h2V466.7h-2zM848.5 453.3h2V463.4h-2zM851.5 452.0h2V453.5h-2zM854.5 445.2h2V452.0h-2zM856.5 442.1h2V445.2h-2zM859.5 440.5h2V442.1h-2zM862.5 433.2h2V440.5h-2zM865.5 394.0h2V433.2h-2zM868.5 386.5h2V394.0h-2zM876.5 424.0h2V428.8h-2zM879.5 404.5h2V424.0h-2zM885.5 378.5h2V412.5h-2zM907.5 410.1h2V458.0h-2zM910.5 408.8h2V410.3h-2zM916.5 377.0h2V414.0h-2zM927.5 413.2h2V414.7h-2zM933.5 355.1h2V420.6h-2zM941.5 402.9h2V409.8h-2zM944.5 402.2h2V403.7h-2zM947.5 399.3h2V402.2h-2zM950.5 377.8h2V399.3h-2zM958.5 389.8h2V400.2h-2zM966.5 383.9h2V392.8h-2zM969.5 344.6h2V383.9h-2zM983.5 342.4h2V363.5h-2zM986.5 340.6h2V342.4h-2zM995.5 402.8h2V418.4h-2zM997.5 395.5h2V402.8h-2zM1003.5 393.7h2V399.5h-2zM1009.5 369.0h2V406.8h-2zM1012.5 366.3h2V369.0h-2zM1017.5 363.6h2V368.6h-2zM1023.5 385.6h2V398.9h-2zM1026.5 374.4h2V385.6h-2zM1028.5 333.0h2V374.4h-2zM1031.5 331.2h2V333.0h-2zM1051.5 354.3h2V373.7h-2zM1057.5 372.4h2V380.0h-2zM1060.5 363.1h2V372.4h-2zM1062.5 342.4h2V363.1h-2zM1065.5 336.1h2V342.4h-2zM1074.5 292.3h2V349.9h-2zM1076.5 285.9h2V292.3h-2zM1079.5 241.9h2V285.9h-2zM1085.5 232.9h2V245.0h-2zM1088.5 213.4h2V232.9h-2zM1107.5 281.0h2V300.6h-2zM1113.5 299.7h2V302.8h-2zM1119.5 299.9h2V301.4h-2zM1122.5 242.1h2V299.9h-2zM1130.5 293.6h2V295.1h-2zM1138.5 269.6h2V297.3h-2zM1141.5 268.2h2V269.7h-2zM1161.5 325.6h2V330.6h-2zM1167.5 327.2h2V332.1h-2zM1169.5 325.1h2V327.2h-2zM1172.5 315.6h2V325.1h-2zM1175.5 301.7h2V315.6h-2zM1178.5 266.3h2V301.7h-2zM1186.5 301.9h2V303.4h-2zM1192.5 273.1h2V316.4h-2zM1203.5 317.1h2V322.4h-2zM1209.5 289.5h2V319.7h-2zM1215.5 249.1h2V297.7h-2zM1220.5 250.9h2V253.1h-2zM1223.5 250.8h2V252.3h-2zM1229.5 270.6h2V276.4h-2zM1232.5 263.8h2V270.6h-2zM1240.5 269.1h2V286.7h-2zM1248.5 286.3h2V289.5h-2zM1251.5 283.8h2V286.3h-2zM1260.5 290.9h2V308.5h-2zM1263.5 288.4h2V290.9h-2zM1271.5 297.3h2V300.5h-2zM1274.5 264.2h2V297.3h-2zM1285.5 311.9h2V332.8h-2zM1288.5 309.4h2V311.9h-2zM1296.5 319.0h2V320.5h-2zM1299.5 315.0h2V319.0h-2zM1302.5 310.6h2V315.0h-2zM1308.5 292.6h2V313.6h-2zM1310.5 290.9h2V292.6h-2zM1313.5 283.5h2V290.9h-2zM1316.5 275.5h2V283.5h-2zM1319.5 271.8h2V275.5h-2zM1322.5 262.6h2V271.8h-2zM1325.5 251.1h2V262.6h-2zM1327.5 235.1h2V251.1h-2zM1330.5 224.4h2V235.1h-2zM1333.5 211.5h2V224.4h-2zM1336.5 210.8h2V212.3h-2zM1339.5 207.5h2V210.8h-2zM1342.5 194.8h2V207.5h-2zM1350.5 186.2h2V223.6h-2zM1373.5 264.0h2V267.4h-2zM1375.5 262.5h2V264.0h-2zM1381.5 264.7h2V277.2h-2zM1401.5 326.4h2V340.2h-2zM1415.5 397.8h2V418.2h-2zM1418.5 391.7h2V397.8h-2zM1426.5 396.9h2V398.4h-2zM1429.5 362.3h2V396.9h-2zM1435.5 367.9h2V387.6h-2zM1437.5 353.0h2V367.9h-2zM1443.5 341.1h2V358.0h-2zM1446.5 332.2h2V341.1h-2zM1451.5 344.7h2V350.1h-2zM1457.5 338.7h2V346.4h-2zM1463.5 345.6h2V347.1h-2zM1466.5 334.0h2V345.6h-2zM1471.5 355.4h2V357.1h-2zM1474.5 353.8h2V355.4h-2zM1483.5 400.3h2V425.3h-2zM1488.5 383.6h2V404.6h-2zM1491.5 383.1h2V384.6h-2zM1499.5 390.5h2V394.7h-2zM1502.5 388.3h2V390.5h-2zM1505.5 353.3h2V388.3h-2zM1508.5 348.6h2V353.3h-2zM1511.5 328.3h2V348.6h-2zM1514.5 310.7h2V328.3h-2zM1516.5 277.0h2V300.0h-2zM1519.5 258.8h2V276.8h-2zM1522.5 246.5h2V259.5h-2zM1525.5 247.9h2V254.4h-2zM1528.5 234.9h2V249.4h-2zM1536.5 230.6h2V252.3h-2zM1539.5 229.1h2V231.3h-2zM1542.5 225.5h2V230.6h-2zM1545.5 208.9h2V226.2h-2zM1550.5 206.7h2V217.6h-2z" fill="#1f4d22" stroke="#0a0f0a" stroke-width="1"/>
<path d="M58.5 475.7h2V478.5h-2zM73.5 402.5h2V411.0h-2zM75.5 411.0h2V417.4h-2zM89.5 329.2h2V336.9h-2zM92.5 336.9h2V351.1h-2zM98.5 325.0h2V337.5h-2zM106.5 322.6h2V330.8h-2zM118.5 209.9h2V217.3h-2zM120.5 217.3h2V233.4h-2zM123.5 233.4h2V261.8h-2zM126.5 261.8h2V276.8h-2zM129.5 276.8h2V287.3h-2zM135.5 249.9h2V271.9h-2zM137.5 271.9h2V277.8h-2zM140.5 277.8h2V298.4h-2zM151.5 265.4h2V266.9h-2zM157.5 264.1h2V265.6h-2zM160.5 265.1h2V334.6h-2zM163.5 334.6h2V353.7h-2zM166.5 353.7h2V368.7h-2zM168.5 368.7h2V378.2h-2zM171.5 378.2h2V393.2h-2zM174.5 393.2h2V414.6h-2zM177.5 414.6h2V424.8h-2zM191.5 381.7h2V383.2h-2zM194.5 382.7h2V407.9h-2zM197.5 407.9h2V421.8h-2zM199.5 421.8h2V446.3h-2zM202.5 446.3h2V465.7h-2zM205.5 465.7h2V469.8h-2zM225.5 357.9h2V369.3h-2zM233.5 318.5h2V320.0h-2zM236.5 319.7h2V340.0h-2zM239.5 340.0h2V366.5h-2zM242.5 366.5h2V368.2h-2zM250.5 319.4h2V329.2h-2zM253.5 329.2h2V368.4h-2zM256.5 368.4h2V455.0h-2zM264.5 438.3h2V457.5h-2zM273.5 358.8h2V383.9h-2zM278.5 364.4h2V407.5h-2zM284.5 403.6h2V413.7h-2zM290.5 391.0h2V394.8h-2zM307.5 314.9h2V330.3h-2zM312.5 327.8h2V339.1h-2zM318.5 336.5h2V347.9h-2zM321.5 347.9h2V419.1h-2zM323.5 419.1h2V432.2h-2zM329.5 422.0h2V423.5h-2zM332.5 422.9h2V441.6h-2zM335.5 441.6h2V460.8h-2zM338.5 460.8h2V464.8h-2zM340.5 464.8h2V467.6h-2zM343.5 467.6h2V477.1h-2zM349.5 462.1h2V484.3h-2zM352.5 484.3h2V488.6h-2zM355.5 488.6h2V541.6h-2zM357.5 541.6h2V554.5h-2zM369.5 536.1h2V572.0h-2zM371.5 572.0h2V577.0h-2zM388.5 523.7h2V531.9h-2zM394.5 527.3h2V531.8h-2zM400.5 527.3h2V536.6h-2zM402.5 536.6h2V540.7h-2zM408.5 463.9h2V510.9h-2zM411.5 510.9h2V514.9h-2zM417.5 510.2h2V521.3h-2zM419.5 521.3h2V537.3h-2zM422.5 537.3h2V561.9h-2zM425.5 561.9h2V600.3h-2zM431.5 545.4h2V547.2h-2zM433.5 547.2h2V570.4h-2zM436.5 570.4h2V572.7h-2zM445.5 539.7h2V544.6h-2zM448.5 544.6h2V569.3h-2zM462.5 526.1h2V529.5h-2zM464.5 529.5h2V560.7h-2zM476.5 470.9h2V472.6h-2zM493.5 418.0h2V420.3h-2zM512.5 361.7h2V365.1h-2zM515.5 365.1h2V369.2h-2zM521.5 363.8h2V378.3h-2zM529.5 336.6h2V338.1h-2zM532.5 338.1h2V348.6h-2zM535.5 348.6h2V362.0h-2zM541.5 360.2h2V385.8h-2zM552.5 336.5h2V341.4h-2zM563.5 291.5h2V317.8h-2zM566.5 317.8h2V319.3h-2zM569.5 319.1h2V354.9h-2zM572.5 354.9h2V362.4h-2zM574.5 362.4h2V385.7h-2zM577.5 385.7h2V388.0h-2zM580.5 388.0h2V390.3h-2zM586.5 375.9h2V401.0h-2zM589.5 401.0h2V417.9h-2zM597.5 401.4h2V407.2h-2zM600.5 407.2h2V412.0h-2zM608.5 381.3h2V397.3h-2zM617.5 346.0h2V351.5h-2zM628.5 259.0h2V278.4h-2zM631.5 278.4h2V303.2h-2zM637.5 294.1h2V343.8h-2zM639.5 343.8h2V346.6h-2zM645.5 286.4h2V313.1h-2zM648.5 313.1h2V314.6h-2zM651.5 313.7h2V319.4h-2zM653.5 319.4h2V326.1h-2zM665.5 272.8h2V278.3h-2zM668.5 278.3h2V283.4h-2zM670.5 283.4h2V291.0h-2zM684.5 191.3h2V211.5h-2zM687.5 211.5h2V213.0h-2zM693.5 192.3h2V200.1h-2zM696.5 200.1h2V255.8h-2zM699.5 255.8h2V306.6h-2zM713.5 223.3h2V224.8h-2zM715.5 224.4h2V231.9h-2zM721.5 227.3h2V231.6h-2zM724.5 231.6h2V288.1h-2zM727.5 288.1h2V291.5h-2zM732.5 256.8h2V275.2h-2zM741.5 257.0h2V277.0h-2zM744.5 277.0h2V286.6h-2zM746.5 286.6h2V288.1h-2zM749.5 287.5h2V314.3h-2zM752.5 314.3h2V317.0h-2zM755.5 317.0h2V319.0h-2zM758.5 319.0h2V342.1h-2zM761.5 342.1h2V349.8h-2zM766.5 345.0h2V392.5h-2zM778.5 341.6h2V344.6h-2zM783.5 339.0h2V345.5h-2zM786.5 345.5h2V348.7h-2zM794.5 339.7h2V341.2h-2zM797.5 340.4h2V383.9h-2zM800.5 383.9h2V452.2h-2zM809.5 447.4h2V463.1h-2zM811.5 463.1h2V478.2h-2zM814.5 478.2h2V501.8h-2zM817.5 501.8h2V521.4h-2zM820.5 521.4h2V532.5h-2zM823.5 532.5h2V551.4h-2zM828.5 535.4h2V539.7h-2zM842.5 466.5h2V468.0h-2zM871.5 386.5h2V388.0h-2zM873.5 387.8h2V428.8h-2zM882.5 404.5h2V412.5h-2zM887.5 378.5h2V405.4h-2zM890.5 405.4h2V412.9h-2zM893.5 412.9h2V416.2h-2zM896.5 416.2h2V419.7h-2zM899.5 419.7h2V433.2h-2zM902.5 433.2h2V440.4h-2zM904.5 440.4h2V458.0h-2zM913.5 408.8h2V414.0h-2zM919.5 377.0h2V396.8h-2zM921.5 396.8h2V413.2h-2zM924.5 413.2h2V414.7h-2zM930.5 413.2h2V420.6h-2zM935.5 355.1h2V368.4h-2zM938.5 368.4h2V409.8h-2zM952.5 377.8h2V387.2h-2zM955.5 387.2h2V400.2h-2zM961.5 389.8h2V391.3h-2zM964.5 390.5h2V392.8h-2zM972.5 344.6h2V346.1h-2zM975.5 345.4h2V355.1h-2zM978.5 355.1h2V361.3h-2zM981.5 361.3h2V363.5h-2zM989.5 340.6h2V382.5h-2zM992.5 382.5h2V418.4h-2zM1000.5 395.5h2V399.5h-2zM1006.5 393.7h2V406.8h-2zM1014.5 366.3h2V368.6h-2zM1020.5 363.6h2V398.9h-2zM1034.5 331.2h2V340.7h-2zM1037.5 340.7h2V345.5h-2zM1040.5 345.5h2V347.0h-2zM1043.5 346.0h2V369.2h-2zM1045.5 369.2h2V370.7h-2zM1048.5 370.7h2V373.7h-2zM1054.5 354.3h2V380.0h-2zM1068.5 336.1h2V346.5h-2zM1071.5 346.5h2V349.9h-2zM1082.5 241.9h2V245.0h-2zM1091.5 213.4h2V242.7h-2zM1093.5 242.7h2V244.2h-2zM1096.5 243.6h2V254.8h-2zM1099.5 254.8h2V257.3h-2zM1102.5 257.3h2V281.8h-2zM1105.5 281.8h2V300.6h-2zM1110.5 281.0h2V302.8h-2zM1116.5 299.7h2V301.2h-2zM1124.5 242.1h2V261.1h-2zM1127.5 261.1h2V294.9h-2zM1133.5 293.6h2V295.6h-2zM1136.5 295.6h2V297.3h-2zM1144.5 268.2h2V277.4h-2zM1147.5 277.4h2V296.2h-2zM1150.5 296.2h2V298.6h-2zM1153.5 298.6h2V300.1h-2zM1155.5 299.6h2V306.9h-2zM1158.5 306.9h2V330.6h-2zM1164.5 325.6h2V332.1h-2zM1181.5 266.3h2V267.8h-2zM1184.5 267.7h2V303.2h-2zM1189.5 301.9h2V316.4h-2zM1195.5 273.1h2V292.7h-2zM1198.5 292.7h2V320.8h-2zM1201.5 320.8h2V322.4h-2zM1206.5 317.1h2V319.7h-2zM1212.5 289.5h2V297.7h-2zM1217.5 249.1h2V253.1h-2zM1226.5 250.8h2V276.4h-2zM1234.5 263.8h2V266.1h-2zM1237.5 266.1h2V286.7h-2zM1243.5 269.1h2V278.9h-2zM1246.5 278.9h2V289.5h-2zM1254.5 283.8h2V299.2h-2zM1257.5 299.2h2V308.5h-2zM1265.5 288.4h2V292.0h-2zM1268.5 292.0h2V300.5h-2zM1277.5 264.2h2V306.1h-2zM1279.5 306.1h2V318.9h-2zM1282.5 318.9h2V332.8h-2zM1291.5 309.4h2V315.0h-2zM1294.5 315.0h2V320.3h-2zM1305.5 310.6h2V313.6h-2zM1344.5 194.8h2V196.9h-2zM1347.5 196.9h2V223.6h-2zM1353.5 186.2h2V187.7h-2zM1356.5 187.4h2V198.9h-2zM1358.5 198.9h2V215.4h-2zM1361.5 215.4h2V231.5h-2zM1364.5 231.5h2V248.1h-2zM1367.5 248.1h2V263.2h-2zM1370.5 263.2h2V267.4h-2zM1378.5 262.5h2V277.2h-2zM1384.5 264.7h2V277.1h-2zM1387.5 277.1h2V289.9h-2zM1389.5 289.9h2V292.9h-2zM1392.5 292.9h2V314.9h-2zM1395.5 314.9h2V324.0h-2zM1398.5 324.0h2V340.2h-2zM1404.5 326.4h2V382.8h-2zM1406.5 382.8h2V388.0h-2zM1409.5 388.0h2V398.8h-2zM1412.5 398.8h2V418.2h-2zM1420.5 391.7h2V395.7h-2zM1423.5 395.7h2V398.4h-2zM1432.5 362.3h2V387.6h-2zM1440.5 353.0h2V358.0h-2zM1449.5 332.2h2V350.1h-2zM1454.5 344.7h2V346.4h-2zM1460.5 338.7h2V345.7h-2zM1468.5 334.0h2V357.1h-2zM1477.5 353.8h2V369.7h-2zM1480.5 369.7h2V425.3h-2zM1485.5 400.3h2V404.6h-2zM1494.5 383.1h2V384.9h-2zM1497.5 384.9h2V394.7h-2zM1530.5 231.3h2V242.1h-2zM1533.5 241.4h2V253.7h-2zM1547.5 208.9h2V217.6h-2zM1553.5 207.5h2V214.7h-2z" fill="#7a1f22" stroke="#120808" stroke-width="1"/>
<path d="M645.0 140.0L688.0 180.0M683.3 167.9L688.0 180.0L675.6 176.2M1113.0 148.0L1083.0 195.0M1094.1 188.2L1083.0 195.0L1084.5 182.1M1300.0 130.0L1343.0 168.0M1338.0 156.0L1343.0 168.0L1330.5 164.5M1590.0 160.0L1553.0 190.0M1565.7 187.0L1553.0 190.0L1558.5 178.2M1597.0 287.0L1575.0 303.0M1587.8 300.7L1575.0 303.0L1581.1 291.5M302.0 488.0L287.0 450.0M286.0 463.0L287.0 450.0L296.6 458.8M286.0 529.0L264.0 488.0M264.6 501.0L264.0 488.0L274.5 495.6M684.0 497.0L615.0 446.0M621.1 457.5L615.0 446.0L627.8 448.4M621.0 504.0L596.0 472.0M598.8 484.7L596.0 472.0L607.7 477.7M1044.0 494.0L993.0 436.0M996.5 448.5L993.0 436.0L1005.0 441.1M1438.0 489.0L1410.0 440.0M1410.9 453.0L1410.0 440.0L1420.7 447.4M1466.0 492.0L1482.0 466.0M1471.0 473.0L1482.0 466.0L1480.7 478.9M406.0 645.0L385.0 619.0M388.0 631.7L385.0 619.0L396.8 624.6M1465.0 645.0L1494.0 615.0M1481.8 619.5L1494.0 615.0L1489.9 627.3" stroke="#2962ff" stroke-width="1.6" fill="none" stroke-linecap="round" stroke-linejoin="round"/>
</g>
<path d="M53 643.5H1848" stroke="#20232c" stroke-width="1.4"/>
<text x="1593" y="147" font-size="15" fill="#131722" textLength="100" lengthAdjust="spacingAndGlyphs">AREA TARGET</text>
<text x="1593" y="164" font-size="15" fill="#131722" textLength="73" lengthAdjust="spacingAndGlyphs">1.3840-90</text>
<text x="1610" y="278" font-size="15" fill="#131722" textLength="154" lengthAdjust="spacingAndGlyphs">POSSIBILE PULLBACK</text>
<text x="1610" y="295" font-size="15" fill="#131722" textLength="150" lengthAdjust="spacingAndGlyphs">CORRETTIVO 1.3670</text>
<text x="1377" y="516" font-size="15" fill="#131722" textLength="197" lengthAdjust="spacingAndGlyphs">AREE D I SUPPORTI CHIAVE</text>
<text x="1377" y="533" font-size="15" fill="#131722" textLength="116" lengthAdjust="spacingAndGlyphs">1.3415 - 1.3360</text>
<text x="60" y="58" font-size="12.5" fill="#131722" textLength="129" lengthAdjust="spacingAndGlyphs">USDCAD · USDCAD · 1D</text>
<circle cx="208.5" cy="53" r="6.5" fill="#d5efe9"/><circle cx="208.5" cy="53" r="3.2" fill="#089981"/>
<text x="229.6" y="57.5" font-size="11" fill="#2a2e39" textLength="80.9" lengthAdjust="spacingAndGlyphs">O - Aper.1.38347</text>
<text x="316.4" y="57.5" font-size="11" fill="#2a2e39" textLength="78.3" lengthAdjust="spacingAndGlyphs">H - Max.1.38412</text>
<text x="400.6" y="57.5" font-size="11" fill="#2a2e39" textLength="74.3" lengthAdjust="spacingAndGlyphs">L - Min.1.38203</text>
<text x="480.8" y="57.5" font-size="11" fill="#2a2e39" textLength="84.9" lengthAdjust="spacingAndGlyphs">C - Chius.1.38217</text>
<text x="571.6" y="57.5" font-size="11" fill="#2a2e39" textLength="87.1" lengthAdjust="spacingAndGlyphs">−0.00128 (−0.09%)</text>
<text x="1799" y="67" font-size="11.5" fill="#b2b5be" textLength="41" lengthAdjust="spacingAndGlyphs">1.41000</text>
<text x="1799" y="121" font-size="11.5" fill="#b2b5be" textLength="41" lengthAdjust="spacingAndGlyphs">1.40000</text>
<text x="1799" y="176" font-size="11.5" fill="#b2b5be" textLength="41" lengthAdjust="spacingAndGlyphs">1.39000</text>
<text x="1799" y="230" font-size="11.5" fill="#b2b5be" textLength="41" lengthAdjust="spacingAndGlyphs">1.38000</text>
<text x="1799" y="284" font-size="11.5" fill="#b2b5be" textLength="41" lengthAdjust="spacingAndGlyphs">1.37000</text>
<text x="1799" y="339" font-size="11.5" fill="#b2b5be" textLength="41" lengthAdjust="spacingAndGlyphs">1.36000</text>
<text x="1799" y="393" font-size="11.5" fill="#b2b5be" textLength="41" lengthAdjust="spacingAndGlyphs">1.35000</text>
<text x="1799" y="447" font-size="11.5" fill="#b2b5be" textLength="41" lengthAdjust="spacingAndGlyphs">1.34000</text>
<text x="1799" y="502" font-size="11.5" fill="#b2b5be" textLength="41" lengthAdjust="spacingAndGlyphs">1.33000</text>
<text x="1799" y="556" font-size="11.5" fill="#b2b5be" textLength="41" lengthAdjust="spacingAndGlyphs">1.32000</text>
<text x="1799" y="610" font-size="11.5" fill="#b2b5be" textLength="41" lengthAdjust="spacingAndGlyphs">1.31000</text>
<text x="1799" y="711" font-size="11.5" fill="#b2b5be" textLength="22" lengthAdjust="spacingAndGlyphs">0.00</text>
<rect x="1791" y="139.5" width="54.5" height="17" fill="#e3effd" rx="1.5"/>
<text x="1799" y="152" font-size="11.5" fill="#131722" textLength="41" lengthAdjust="spacingAndGlyphs">1.39454</text>
<rect x="1739" y="139.5" width="51" height="17" fill="#e3effd" rx="1.5"/>
<text x="1743.0" y="152" font-size="11.5" fill="#131722" textLength="43" lengthAdjust="spacingAndGlyphs">Massimo</text>
<rect x="1791" y="168.5" width="54.5" height="17" fill="#9b9ea6" rx="1.5"/>
<text x="1799" y="181" font-size="11.5" fill="#131722" textLength="41" lengthAdjust="spacingAndGlyphs">1.38914</text>
<rect x="1791" y="190.0" width="54.5" height="17" fill="#9b9ea6" rx="1.5"/>
<text x="1799" y="202.5" font-size="11.5" fill="#131722" textLength="41" lengthAdjust="spacingAndGlyphs">1.38460</text>
<rect x="1791" y="255.0" width="54.5" height="17" fill="#2196f3" rx="1.5"/>
<text x="1799" y="267.5" font-size="11.5" fill="#ffffff" font-weight="bold" textLength="41" lengthAdjust="spacingAndGlyphs">1.37324</text>
<rect x="1791" y="298.0" width="54.5" height="17" fill="#f23645" rx="1.5"/>
<text x="1799" y="310.5" font-size="11.5" fill="#ffffff" font-weight="bold" textLength="41" lengthAdjust="spacingAndGlyphs">1.36518</text>
<rect x="1791" y="315.5" width="54.5" height="17" fill="#9b9ea6" rx="1.5"/>
<text x="1799" y="328" font-size="11.5" fill="#131722" textLength="41" lengthAdjust="spacingAndGlyphs">1.36409</text>
<rect x="1791" y="332.0" width="54.5" height="17" fill="#4caf50" rx="1.5"/>
<text x="1799" y="344.5" font-size="11.5" fill="#ffffff" font-weight="bold" textLength="41" lengthAdjust="spacingAndGlyphs">1.36323</text>
<rect x="1791" y="349.0" width="54.5" height="17" fill="#9b9ea6" rx="1.5"/>
<text x="1799" y="361.5" font-size="11.5" fill="#131722" textLength="41" lengthAdjust="spacingAndGlyphs">1.36102</text>
<rect x="1791" y="428.5" width="54.5" height="17" fill="#9b9ea6" rx="1.5"/>
<text x="1799" y="441" font-size="11.5" fill="#131722" textLength="41" lengthAdjust="spacingAndGlyphs">1.34130</text>
<rect x="1791" y="453.5" width="54.5" height="17" fill="#9b9ea6" rx="1.5"/>
<text x="1799" y="466" font-size="11.5" fill="#131722" textLength="41" lengthAdjust="spacingAndGlyphs">1.33669</text>
<rect x="1791" y="594.5" width="54.5" height="17" fill="#9b9ea6" rx="1.5"/>
<text x="1799" y="607" font-size="11.5" fill="#131722" textLength="41" lengthAdjust="spacingAndGlyphs">1.31077</text>
<rect x="1791" y="611.5" width="54.5" height="17" fill="#e3effd" rx="1.5"/>
<text x="1799" y="624" font-size="11.5" fill="#131722" textLength="41" lengthAdjust="spacingAndGlyphs">1.30917</text>
<rect x="1745" y="611.5" width="45" height="17" fill="#e3effd" rx="1.5"/>
<text x="1749.0" y="624" font-size="11.5" fill="#131722" textLength="37" lengthAdjust="spacingAndGlyphs">Minimo</text>
<rect x="1791" y="206.2" width="54.5" height="17" fill="#f23645" rx="1.5"/>
<text x="1799" y="218.7" font-size="11.5" fill="#ffffff" font-weight="bold" textLength="41" lengthAdjust="spacingAndGlyphs">1.38217</text>
<rect x="1740" y="206.2" width="50" height="17" fill="#f23645" rx="1.5"/>
<text x="1745.0" y="218.7" font-size="11.5" fill="#ffffff" font-weight="bold" textLength="40" lengthAdjust="spacingAndGlyphs">USDCAD</text>
<g clip-path="url(#cs2)"><defs><clipPath id="cs2"><rect x="1780" y="644" width="70" height="80"/></clipPath></defs>
<rect x="1791" y="636" width="41" height="17" fill="#ff7a1a" rx="1.5"/>
<text x="1799" y="650" font-size="11.5" fill="#fff" font-weight="bold" textLength="28" lengthAdjust="spacingAndGlyphs">88.34</text>
</g>
<rect x="1791" y="653" width="41" height="17" fill="#2196f3" rx="1.5"/>
<text x="1799" y="666" font-size="11.5" fill="#fff" font-weight="bold" textLength="28" lengthAdjust="spacingAndGlyphs">81.76</text>
<text x="96" y="729" font-size="11" fill="#b9bcc4" text-anchor="middle" stroke="#b9bcc4" stroke-width=".35">Mar</text>
<text x="172" y="729" font-size="11" fill="#b9bcc4" text-anchor="middle" stroke="#b9bcc4" stroke-width=".35">Apr</text>
<text x="320" y="729" font-size="11" fill="#b9bcc4" text-anchor="middle" stroke="#b9bcc4" stroke-width=".35">Giu</text>
<text x="467" y="729" font-size="11" fill="#b9bcc4" text-anchor="middle" stroke="#b9bcc4" stroke-width=".35">Ago</text>
<text x="544" y="729" font-size="11" fill="#b9bcc4" text-anchor="middle" stroke="#b9bcc4" stroke-width=".35">Set</text>
<text x="692" y="729" font-size="11" fill="#b9bcc4" text-anchor="middle" stroke="#b9bcc4" stroke-width=".35">Nov</text>
<text x="831" y="729" font-size="11" fill="#b9bcc4" font-weight="bold" text-anchor="middle">2024</text>
<text x="976" y="729" font-size="11" fill="#b9bcc4" text-anchor="middle" stroke="#b9bcc4" stroke-width=".35">Mar</text>
<text x="1124" y="729" font-size="11" fill="#b9bcc4" text-anchor="middle" stroke="#b9bcc4" stroke-width=".35">Mag</text>
<text x="1201" y="729" font-size="11" fill="#b9bcc4" text-anchor="middle" stroke="#b9bcc4" stroke-width=".35">Giu</text>
<text x="1349" y="729" font-size="11" fill="#b9bcc4" text-anchor="middle" stroke="#b9bcc4" stroke-width=".35">Ago</text>
<text x="1496" y="729" font-size="11" fill="#b9bcc4" text-anchor="middle" stroke="#b9bcc4" stroke-width=".35">Ott</text>
<text x="1576" y="729" font-size="11" fill="#b9bcc4" text-anchor="middle" stroke="#b9bcc4" stroke-width=".35">Nov</text>
<text x="1724" y="729" font-size="11" fill="#b9bcc4" font-weight="bold" text-anchor="middle">2025</text>
<g fill="none" stroke="#1c1f29" stroke-width="1.050"><path d="M1814.400 726.500l3-5.200h6l3 5.200-3 5.200h-6z"/><circle cx="1820.400" cy="726.500" r="1.600"/></g>
</svg>
<svg width="1912" height="830" viewBox="0 0 1912 830" style="position:absolute;left:0;top:0" font-family='Liberation Sans, DejaVu Sans, sans-serif'>
<g fill="none" stroke="#d1d4dc" stroke-width="1.2" stroke-linecap="round" stroke-linejoin="round"><circle cx="18.5" cy="21" r="4.6"/><path d="M22 24.5l3 3.2"/></g>
<text x="29" y="26.5" font-size="12.5" fill="#e6e8ee" font-weight="bold" textLength="43" lengthAdjust="spacingAndGlyphs">USDCAD</text>
<g fill="none" stroke="#d1d4dc" stroke-width="1.2" stroke-linecap="round" stroke-linejoin="round"><circle cx="103" cy="22.5" r="8"/><path d="M99 22.5h8M103 18.500v8"/></g>
<rect x="123" y="14" width="1" height="18" fill="#434651"/>
<rect x="162" y="14" width="1" height="18" fill="#434651"/>
<rect x="201" y="14" width="1" height="18" fill="#434651"/>
<rect x="296" y="14" width="1" height="18" fill="#434651"/>
<text x="139" y="27" font-size="13" fill="#e6e8ee" font-weight="bold">D</text>
<g fill="none" stroke="#d1d4dc" stroke-width="1.2" stroke-linecap="round" stroke-linejoin="round"><rect x="177" y="17.500" width="3" height="10" rx=".8"/><path d="M178.500 14.500v3M178.500 27.500v3"/><rect x="184.500" y="19.500" width="3" height="6" rx=".8"/><path d="M186 16.500v3M186 25.500v3"/></g>
<g fill="none" stroke="#d1d4dc" stroke-width="1.2" stroke-linecap="round" stroke-linejoin="round"><path d="M224 15.500c-3-1.200-4.300 0-4.800 2.600l-1.800 9c-.5 2.400-1.800 3.300-3.900 2.500M215.500 20.500h6.500"/><path d="M222.500 25l4 4M226.500 25l-4 4"/></g>
<text x="234" y="26.5" font-size="12.5" fill="#e6e8ee" font-weight="bold" textLength="50" lengthAdjust="spacingAndGlyphs">Indicatori</text>
<g fill="none" stroke="#d1d4dc" stroke-width="1.2" stroke-linecap="round" stroke-linejoin="round"><path d="M313.500 17.500l-3.500 3.500 3.500 3.500M310 21h7.500c2.500 0 3.500 1.500 3.500 3.200 0 1-.2 1.500-.5 2.300"/></g>
<g fill="none" stroke="#d1d4dc" stroke-width="1.2" stroke-linecap="round" stroke-linejoin="round" opacity=".28"><path d="M348.500 17.500l3.500 3.500-3.500 3.500M352 21h-7.500c-2.500 0-3.500 1.500-3.500 3.200 0 1 .2 1.500.5 2.300"/></g>
<rect x="1646" y="9" width="28" height="27" rx="3" fill="#2a2e39"/>
<g fill="none" stroke="#d1d4dc" stroke-width="1.2" stroke-linecap="round" stroke-linejoin="round"><rect x="1652" y="16" width="15.500" height="13.500" rx="1.800"/><path d="M1659.800 16v13.500"/></g>
<text x="1689" y="23" font-size="12.5" fill="#f0f1f5" font-weight="bold" textLength="27.5" lengthAdjust="spacingAndGlyphs">Salva</text>
<text x="1692.5" y="33" font-size="8.5" fill="#2962ff" textLength="19" lengthAdjust="spacingAndGlyphs">Salva</text>
<g fill="none" stroke="#d1d4dc" stroke-width="1.2" stroke-linecap="round" stroke-linejoin="round"><path d="M1735.500 21.500l3.300 3 3.300-3"/></g>
<rect x="1750" y="14" width="1" height="18" fill="#434651"/>
<g fill="none" stroke="#d1d4dc" stroke-width="1.2" stroke-linecap="round" stroke-linejoin="round"><path d="M1768.500 16a6.600 6.600 0 1 0 5.800 6"/><path d="M1773.200 27.200l3.800 3.600"/><path d="M1772.500 13.500l-3.500 6h3.200l-1.200 4.500 4-6.200h-3.200z"/></g>
<g fill="none" stroke="#d1d4dc" stroke-width="1.2" stroke-linecap="round" stroke-linejoin="round"><path d="M1807.6 21.0L1809.7 21.4L1809.7 23.6L1807.6 24.0L1806.9 25.8L1808.1 27.5L1806.5 29.1L1804.8 27.9L1803.0 28.6L1802.6 30.7L1800.4 30.7L1800.0 28.6L1798.2 27.9L1796.5 29.1L1794.9 27.5L1796.1 25.8L1795.4 24.0L1793.3 23.6L1793.3 21.4L1795.4 21.0L1796.1 19.2L1794.9 17.5L1796.5 15.9L1798.2 17.1L1800.0 16.4L1800.4 14.3L1802.6 14.3L1803.0 16.4L1804.8 17.1L1806.5 15.9L1808.1 17.5L1806.9 19.2z"/><circle cx="1801.500" cy="22.500" r="2.600"/></g>
<g fill="none" stroke="#d1d4dc" stroke-width="1.2" stroke-linecap="round" stroke-linejoin="round"><path d="M1826.500 18h2.500l1.500-2.500h5.500l1.500 2.500h2.500a1.500 1.500 0 0 1 1.500 1.500v8a1.500 1.500 0 0 1-1.500 1.500h-13.500a1.500 1.500 0 0 1-1.500-1.500v-8a1.500 1.500 0 0 1 1.500-1.500z"/><circle cx="1833.200" cy="23.300" r="3.300"/></g>
<path d="M1656.500 42l3.500-3.500 3.500 3.500z" fill="#363a45"/>
<rect x="1613" y="41.500" width="94" height="19.500" rx="2.500" fill="#363a45"/>
<text x="1619.5" y="55" font-size="11.5" fill="#ffffff" textLength="79" lengthAdjust="spacingAndGlyphs">Seleziona layout</text>
<g fill="none" stroke="#868993" stroke-width="1.2" stroke-linecap="round" stroke-linejoin="round"><rect x="1871.500" y="28.500" width="22" height="16" rx="2"/><path d="M1872 29.500l10.500 8.500 10.500-8.500"/></g>
<rect x="1880.500" y="37.500" width="20.500" height="15" rx="7.500" fill="#f04a4a" stroke="#131722" stroke-width="1"/>
<text x="1890.8" y="49" font-size="10.5" fill="#fff" font-weight="bold" text-anchor="middle">51</text>
<g fill="none" stroke="#868993" stroke-width="1.2" stroke-linecap="round" stroke-linejoin="round"><path d="M1875.500 84v13.500a2 2 0 0 1-4 0v-10.500h4"/><path d="M1875.500 97.500v-15.500a1.500 1.500 0 0 1 1.500-1.500h15a1.500 1.500 0 0 1 1.500 1.500v15.500a2 2 0 0 1-2 2h-18"/><rect x="1879" y="83.500" width="5.500" height="5"/><path d="M1887 84.500h4M1887 87.500h4M1879 91.500h12M1879 94.500h12"/></g>
<path d="M20.800 53.700L21.400 63.400L24.100 61.300L27.300 67.200L30 65.600L26.800 60.200L30 58.500z" fill="none" stroke="#2c55d0" stroke-width="1.300" stroke-linejoin="round"/>
<g fill="none" stroke="#d1d4dc" stroke-width="1.2" stroke-linecap="round" stroke-linejoin="round"><path d="M20.300 96.200l12-13"/><circle cx="19" cy="97.500" r="1.800"/><circle cx="33.500" cy="82" r="1.800"/></g>
<g fill="none" stroke="#d1d4dc" stroke-width="1.2" stroke-linecap="round" stroke-linejoin="round"><path d="M17 111.500h19M17 116.500h16.500M17 121.500h19M19.500 126.500h16.500"/><circle cx="35.300" cy="116.500" r="1.700" fill="#131722"/><circle cx="17.700" cy="126.500" r="1.700" fill="#131722"/></g>
<g fill="none" stroke="#d1d4dc" stroke-width="1.2" stroke-linecap="round" stroke-linejoin="round" stroke-width="1"><path d="M19.700 156.900L22 142L25.400 148.300L31.700 143.200L34.600 154L25.400 148.300z"/><circle cx="22" cy="142" r="1.600" fill="#131722"/><circle cx="31.700" cy="143.200" r="1.600" fill="#131722"/><circle cx="19.700" cy="156.900" r="1.600" fill="#131722"/><circle cx="34.600" cy="154" r="1.600" fill="#131722"/></g>
<g fill="none" stroke="#d1d4dc" stroke-width="1.2" stroke-linecap="round" stroke-linejoin="round" stroke-width="1.100"><path d="M20.300 173.500h14.500M20.300 182h11.500M20.300 187h14.500"/><path d="M22 179.800l11.500-4.600" stroke-dasharray="1.500 1.800"/><circle cx="18.600" cy="173.500" r="1.600"/><circle cx="18.600" cy="182" r="1.600"/><circle cx="33.500" cy="182" r="1.600"/><circle cx="18.600" cy="187" r="1.600"/></g>
<g fill="none" stroke="#d1d4dc" stroke-width="1.2" stroke-linecap="round" stroke-linejoin="round"><path d="M17.400 216.400c1.500-3.500 3.500-6 5.800-7.400 2.500-1.200 5 -.5 5.700 1 .5 2-0.300 4-1.700 5.800z"/><path d="M30 204.400c-.5 2 .2 3.500 1.200 4l6.300-5.200"/></g>
<g fill="none" stroke="#d1d4dc" stroke-width="1.2" stroke-linecap="round" stroke-linejoin="round" stroke-width="1.400"><path d="M19.500 234v-2h13v2M26 232v14.500M23.500 246.500h5"/></g>
<g fill="none" stroke="#d1d4dc" stroke-width="1.2" stroke-linecap="round" stroke-linejoin="round"><circle cx="26.300" cy="269.500" r="9"/><path d="M22.300 272.500c1.800 2.600 5.600 2.600 7.400 0"/><circle cx="23.300" cy="267.500" r=".7" fill="#d1d4dc"/><circle cx="28.700" cy="267.500" r=".7" fill="#d1d4dc"/></g>
<rect x="12" y="291" width="29" height="1" fill="#363a45"/>
<rect x="12" y="360" width="29" height="1" fill="#363a45"/>
<rect x="12" y="521" width="29" height="1" fill="#363a45"/>
<g fill="none" stroke="#d1d4dc" stroke-width="1.2" stroke-linecap="round" stroke-linejoin="round"><path d="M17.500 316l15-13 3.500 4-15 13z"/><path d="M21 313l1.500 1.700M24 310.500l2.200 2.500M27 308l1.500 1.700M30 305.500l2.200 2.500"/></g>
<g fill="none" stroke="#d1d4dc" stroke-width="1.2" stroke-linecap="round" stroke-linejoin="round"><circle cx="25" cy="339" r="6.800"/><path d="M30 344l4 4M22 339h6M25 336v6"/></g>
<g fill="none" stroke="#d1d4dc" stroke-width="1.2" stroke-linecap="round" stroke-linejoin="round"><path d="M19.500 387.500v-8a6.500 6.500 0 0 1 13 0v8h-4v-8a2.500 2.500 0 0 0-5 0v8z"/><path d="M19.500 384h4M28.500 384h4"/></g>
<rect x="14" y="399.500" width="25" height="24.500" rx="2.500" fill="#2962ff"/>
<g fill="none" stroke="#fff" stroke-width="1.200" stroke-linecap="round" stroke-linejoin="round"><path d="M18.500 414.500l1-4 8-7.500 3 3-8 7.500zM25.500 405l3 3M21 409.500l2 2"/><rect x="28.500" y="414" width="6" height="5" rx=".8"/><path d="M29.800 414v-1.500a1.700 1.700 0 0 1 3.400 0v1.500"/></g>
<g fill="none" stroke="#d1d4dc" stroke-width="1.2" stroke-linecap="round" stroke-linejoin="round"><rect x="20" y="439.500" width="13" height="9.500" rx="1.500"/><path d="M23 439.500v-3a3.500 3.500 0 0 1 7-.8"/><path d="M26.500 443v2.500"/></g>
<g fill="none" stroke="#d1d4dc" stroke-width="1.2" stroke-linecap="round" stroke-linejoin="round"><path d="M17.500 467.500c4.500-6.500 12.500-6.500 17 0-4.500 6.500-12.500 6.500-17 0z"/><circle cx="26" cy="467.500" r="2.700"/><path d="M29.500 478l3-2.500 1.500 1.500-3 2.500zM33.500 474.500l1.500-1"/></g>
<rect x="14" y="489.500" width="25" height="24.500" rx="2.500" fill="#2962ff"/>
<g fill="none" stroke="#fff" stroke-width="1.200" stroke-linecap="round" stroke-linejoin="round" transform="rotate(-42 26.500 501.500)"><rect x="17.300" y="498.700" width="9.600" height="5.600" rx="2.800"/><rect x="26.100" y="498.700" width="9.600" height="5.600" rx="2.800"/><path d="M23.500 501.500h6"/></g>
<g fill="none" stroke="#d1d4dc" stroke-width="1.2" stroke-linecap="round" stroke-linejoin="round"><path d="M19.500 536.500h14M23.500 536.500v-2h6v2M21 536.500l.8 12.500h9.400l.8-12.500M24.500 539.500v7M28.500 539.500v7"/></g>
<rect x="-1" y="407.500" width="9" height="27" rx="3" fill="#131722" stroke="#2a2e39"/>
<path d="M3 417.500l2.800 3.500-2.800 3.500" fill="none" stroke="#868993" stroke-width="1.2"/>
<rect x="46.500" y="704.500" width="6.500" height="21" rx="2" fill="#131722" stroke="#2a2e39"/>
<path d="M50.800 712l-2 3 2 3" fill="none" stroke="#868993" stroke-width="1"/>
<text x="66" y="760" font-size="10.5" fill="#e6e8ee" textLength="51" lengthAdjust="spacingAndGlyphs">Powered by</text>
<text x="119.5" y="760" font-size="10.5" fill="#3b82f6" textLength="53" lengthAdjust="spacingAndGlyphs" text-decoration="underline">TradingView</text>
<text x="196.5" y="761" font-size="12" fill="#e6e8ee" textLength="13" lengthAdjust="spacingAndGlyphs">1D</text>
<text x="219.5" y="761" font-size="12" fill="#e6e8ee" textLength="13.5" lengthAdjust="spacingAndGlyphs">5D</text>
<text x="243" y="761" font-size="12" fill="#e6e8ee" textLength="14" lengthAdjust="spacingAndGlyphs">1M</text>
<text x="267.5" y="761" font-size="12" fill="#e6e8ee" textLength="14.5" lengthAdjust="spacingAndGlyphs">3M</text>
<text x="291.5" y="761" font-size="12" fill="#e6e8ee" textLength="14.5" lengthAdjust="spacingAndGlyphs">6M</text>
<text x="316" y="761" font-size="12" fill="#e6e8ee" textLength="12.5" lengthAdjust="spacingAndGlyphs">1Y</text>
<text x="339" y="761" font-size="12" fill="#e6e8ee" textLength="12.5" lengthAdjust="spacingAndGlyphs">5Y</text>
<text x="361.5" y="761" font-size="12" fill="#e6e8ee" textLength="13.5" lengthAdjust="spacingAndGlyphs">All</text>
<g fill="none" stroke="#d1d4dc" stroke-width="1.2" stroke-linecap="round" stroke-linejoin="round"><path d="M398 763.500h-.5a1.500 1.500 0 0 1-1.500-1.500v-9a1.500 1.500 0 0 1 1.500-1.500h11.500a1.500 1.500 0 0 1 1.500 1.500v9a1.500 1.500 0 0 1-1.500 1.500h-4M396 754.500h14.500M399.500 749.500v3M407 749.500v3M396.500 759.500h5.500M400 757.500l2 2-2 2"/></g>
<text x="1637.5" y="761" font-size="12" fill="#e6e8ee" textLength="90" lengthAdjust="spacingAndGlyphs">07:48:13 (UTC+2)</text>
<text x="1746" y="761" font-size="12" fill="#e6e8ee" textLength="11" lengthAdjust="spacingAndGlyphs">%</text>
<text x="1767" y="761" font-size="12" fill="#e6e8ee" textLength="16" lengthAdjust="spacingAndGlyphs">log</text>
<text x="1793" y="761" font-size="12" fill="#e6e8ee" textLength="23" lengthAdjust="spacingAndGlyphs">auto</text>
<path d="M1827.500 757.500h5v5.500M1835.500 751v5h5" fill="none" stroke="#2f5bdc" stroke-width="1.200"/>
<rect x="946" y="769" width="28" height="9" rx="2" fill="#131722"/>
<path d="M955 775.500l5-3.500 5 3.500" fill="none" stroke="#d1d4dc" stroke-width="1.200"/>
<path d="M17 799a2 2 0 0 1 2-2h9l8 8v14.500a2 2 0 0 1-2 2h-15a2 2 0 0 1-2-2z" fill="#1976d2"/>
<path d="M28 797l8 8h-6a2 2 0 0 1-2-2z" fill="#e6e8ee"/>
<circle cx="37.500" cy="815" r="7" fill="#fff" stroke="#131722" stroke-width="1.500"/>
<path d="M33.800 815h7.400M37.500 811.300v7.400" stroke="#131722" stroke-width="1.800" fill="none"/>
<text x="53.5" y="813" font-size="16" fill="#d9dce3" textLength="70" lengthAdjust="spacingAndGlyphs">New Order</text>
<text x="747" y="818" font-size="17.5" fill="#2f7de1" textLength="65" lengthAdjust="spacingAndGlyphs">Positions</text>
<text x="818.5" y="811" font-size="13" fill="#2f7de1" textLength="14.5" lengthAdjust="spacingAndGlyphs">22</text>
<text x="893.5" y="818" font-size="17.5" fill="#e6e8ee" textLength="50" lengthAdjust="spacingAndGlyphs">Orders</text>
<text x="949.5" y="811" font-size="13" fill="#e6e8ee">1</text>
<text x="1016.5" y="818" font-size="17.5" fill="#e6e8ee" textLength="43" lengthAdjust="spacingAndGlyphs">Alerts</text>
<text x="1120" y="818" font-size="17.5" fill="#e6e8ee" textLength="54" lengthAdjust="spacingAndGlyphs">History</text>
</svg>
</body></html>
